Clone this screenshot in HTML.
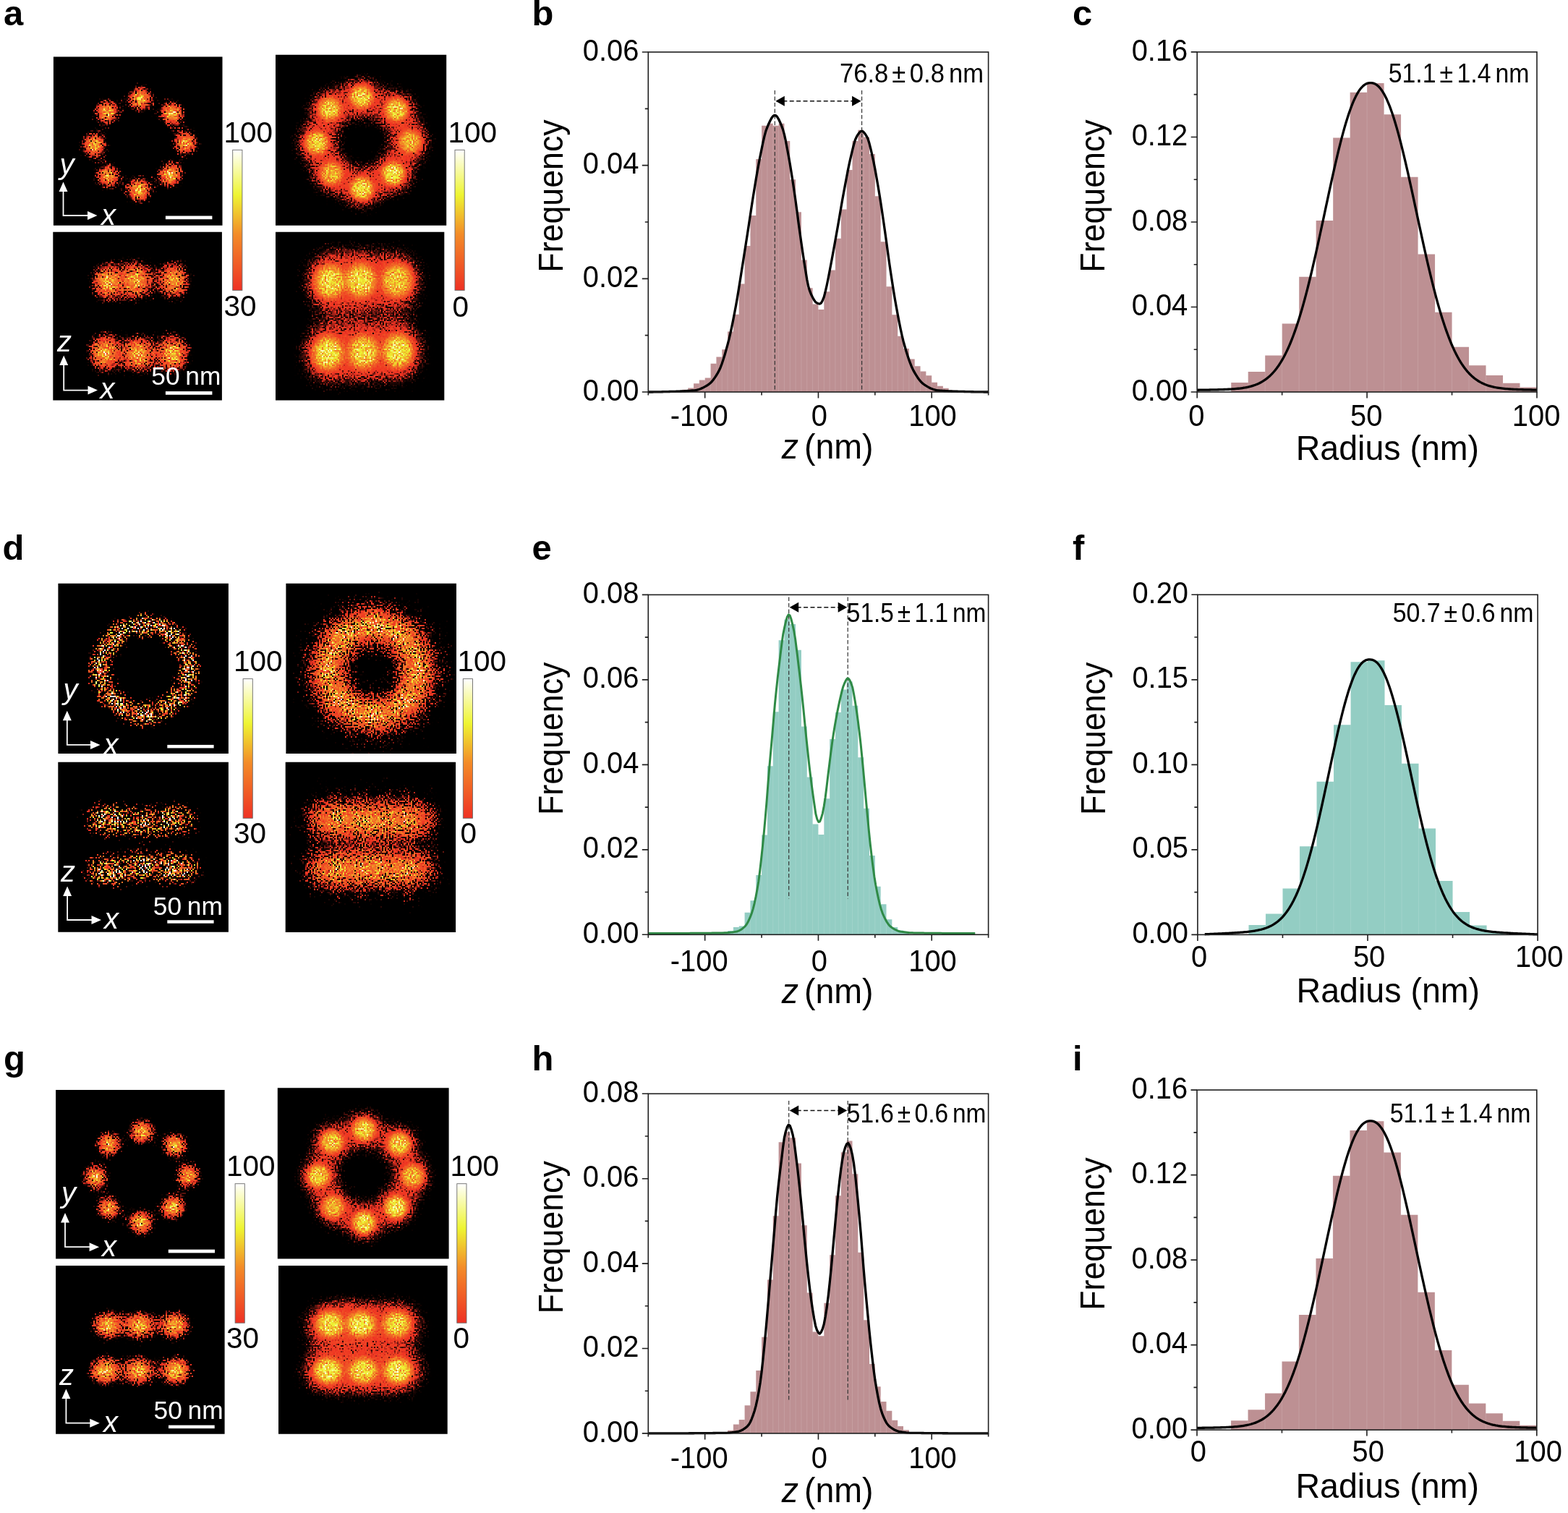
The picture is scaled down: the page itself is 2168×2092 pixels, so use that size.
<!DOCTYPE html>
<html lang="en"><head><meta charset="utf-8"><title>Figure</title>
<style>
html,body{margin:0;padding:0;background:#fff}
body{width:2168px;height:2092px;overflow:hidden}
svg{display:block}
text{font-family:'Liberation Sans', Arial, sans-serif;fill:#000}
.tk{font-size:42.9px}
.ti{font-size:47.5px}
.ty{font-size:47.6px}
.an{font-size:37.2px}
.pl{font-size:47.5px;font-weight:bold}
.wl{font-size:40px;fill:#fff}
.sb{font-size:35.3px;fill:#fff;word-spacing:-2px}
.cl{font-size:40.5px}
</style></head>
<body>
<svg xmlns="http://www.w3.org/2000/svg" width="2168" height="2092" viewBox="0 0 2168 2092">
<defs>
<radialGradient id="gb"><stop offset="0" stop-color="#fff" stop-opacity="1"/><stop offset="0.08" stop-color="#fff" stop-opacity="0.969"/><stop offset="0.17" stop-color="#fff" stop-opacity="0.882"/><stop offset="0.25" stop-color="#fff" stop-opacity="0.755"/><stop offset="0.33" stop-color="#fff" stop-opacity="0.607"/><stop offset="0.42" stop-color="#fff" stop-opacity="0.458"/><stop offset="0.5" stop-color="#fff" stop-opacity="0.325"/><stop offset="0.58" stop-color="#fff" stop-opacity="0.216"/><stop offset="0.67" stop-color="#fff" stop-opacity="0.135"/><stop offset="0.75" stop-color="#fff" stop-opacity="0.08"/><stop offset="0.83" stop-color="#fff" stop-opacity="0.044"/><stop offset="0.92" stop-color="#fff" stop-opacity="0.023"/><stop offset="1" stop-color="#fff" stop-opacity="0"/></radialGradient>
<radialGradient id="gf"><stop offset="0" stop-color="#fff" stop-opacity="1"/><stop offset="0.35" stop-color="#fff" stop-opacity="0.97"/><stop offset="0.5" stop-color="#fff" stop-opacity="0.86"/><stop offset="0.62" stop-color="#fff" stop-opacity="0.66"/><stop offset="0.74" stop-color="#fff" stop-opacity="0.4"/><stop offset="0.85" stop-color="#fff" stop-opacity="0.18"/><stop offset="0.93" stop-color="#fff" stop-opacity="0.06"/><stop offset="1" stop-color="#fff" stop-opacity="0"/></radialGradient>
<linearGradient id="cb" x1="0" y1="1" x2="0" y2="0"><stop offset="0" stop-color="rgb(238,49,36)"/><stop offset="0.4" stop-color="rgb(243,140,40)"/><stop offset="0.68" stop-color="rgb(238,245,50)"/><stop offset="1" stop-color="rgb(255,255,255)"/></linearGradient>
<filter id="f1" filterUnits="userSpaceOnUse" x="73" y="78" width="235" height="234" color-interpolation-filters="sRGB"><feTurbulence type="fractalNoise" baseFrequency="0.45" numOctaves="2" seed="3"/><feColorMatrix type="matrix" values="0.95 0 0 0 0.03 0.95 0 0 0 0.03 0.95 0 0 0 0.03 0 0 0 0 1" result="n"/><feComposite in="SourceGraphic" in2="n" operator="arithmetic" k1="2" k2="0" k3="0.14" k4="-0.07" result="m"/><feFlood flood-color="#000" x="73" y="78" width="1" height="1" result="fl"/><feOffset in="fl" dx="0" dy="0" x="73" y="78" width="2" height="2"/><feTile result="t"/><feComposite in="m" in2="t" operator="in" result="p0"/><feOffset in="p0" dx="1" dy="0" result="p1"/><feOffset in="p0" dx="0" dy="1" result="p2"/><feOffset in="p0" dx="1" dy="1" result="p3"/><feMerge result="px"><feMergeNode in="p0"/><feMergeNode in="p1"/><feMergeNode in="p2"/><feMergeNode in="p3"/></feMerge><feComponentTransfer in="px"><feFuncR type="table" tableValues="0 0 0 0 0 0 0 0 0.03 0.13 0.32 0.58 0.93 0.94 0.94 0.94 0.94 0.94 0.94 0.95 0.95 0.95 0.95 0.95 0.95 0.95 0.95 0.94 0.94 0.94 0.94 0.93 0.94 0.95 0.96 0.96 0.97 0.98 0.99 0.99 1"/><feFuncG type="table" tableValues="0 0 0 0 0 0 0 0 0.01 0.03 0.07 0.12 0.19 0.22 0.26 0.29 0.32 0.35 0.38 0.42 0.45 0.48 0.51 0.54 0.59 0.64 0.7 0.75 0.8 0.85 0.91 0.96 0.96 0.97 0.97 0.98 0.98 0.99 0.99 1 1"/><feFuncB type="table" tableValues="0 0 0 0 0 0 0 0 0 0.02 0.05 0.09 0.14 0.14 0.14 0.15 0.15 0.15 0.15 0.15 0.15 0.15 0.16 0.16 0.16 0.17 0.17 0.18 0.18 0.19 0.19 0.2 0.28 0.37 0.46 0.55 0.64 0.73 0.82 0.91 1"/><feFuncA type="linear" slope="0" intercept="1"/></feComponentTransfer><feGaussianBlur stdDeviation="0.7"/></filter><clipPath id="c1"><rect x="73.9" y="78.6" width="233.6" height="233.1"/></clipPath>
<filter id="f2" filterUnits="userSpaceOnUse" x="73" y="320" width="234" height="234" color-interpolation-filters="sRGB"><feTurbulence type="fractalNoise" baseFrequency="0.45" numOctaves="2" seed="7"/><feColorMatrix type="matrix" values="0.95 0 0 0 0.03 0.95 0 0 0 0.03 0.95 0 0 0 0.03 0 0 0 0 1" result="n"/><feComposite in="SourceGraphic" in2="n" operator="arithmetic" k1="2" k2="0" k3="0.14" k4="-0.07" result="m"/><feFlood flood-color="#000" x="73" y="320" width="1" height="1" result="fl"/><feOffset in="fl" dx="0" dy="0" x="73" y="320" width="2" height="2"/><feTile result="t"/><feComposite in="m" in2="t" operator="in" result="p0"/><feOffset in="p0" dx="1" dy="0" result="p1"/><feOffset in="p0" dx="0" dy="1" result="p2"/><feOffset in="p0" dx="1" dy="1" result="p3"/><feMerge result="px"><feMergeNode in="p0"/><feMergeNode in="p1"/><feMergeNode in="p2"/><feMergeNode in="p3"/></feMerge><feComponentTransfer in="px"><feFuncR type="table" tableValues="0 0 0 0 0 0 0 0 0.03 0.13 0.32 0.58 0.93 0.94 0.94 0.94 0.94 0.94 0.94 0.95 0.95 0.95 0.95 0.95 0.95 0.95 0.95 0.94 0.94 0.94 0.94 0.93 0.94 0.95 0.96 0.96 0.97 0.98 0.99 0.99 1"/><feFuncG type="table" tableValues="0 0 0 0 0 0 0 0 0.01 0.03 0.07 0.12 0.19 0.22 0.26 0.29 0.32 0.35 0.38 0.42 0.45 0.48 0.51 0.54 0.59 0.64 0.7 0.75 0.8 0.85 0.91 0.96 0.96 0.97 0.97 0.98 0.98 0.99 0.99 1 1"/><feFuncB type="table" tableValues="0 0 0 0 0 0 0 0 0 0.02 0.05 0.09 0.14 0.14 0.14 0.15 0.15 0.15 0.15 0.15 0.15 0.15 0.16 0.16 0.16 0.17 0.17 0.18 0.18 0.19 0.19 0.2 0.28 0.37 0.46 0.55 0.64 0.73 0.82 0.91 1"/><feFuncA type="linear" slope="0" intercept="1"/></feComponentTransfer><feGaussianBlur stdDeviation="0.7"/></filter><clipPath id="c2"><rect x="73.3" y="320.7" width="233.6" height="232.7"/></clipPath>
<filter id="f3" filterUnits="userSpaceOnUse" x="381" y="75" width="237" height="237" color-interpolation-filters="sRGB"><feTurbulence type="fractalNoise" baseFrequency="0.45" numOctaves="2" seed="11"/><feColorMatrix type="matrix" values="0.8 0 0 0 0.1 0.8 0 0 0 0.1 0.8 0 0 0 0.1 0 0 0 0 1" result="n"/><feComposite in="SourceGraphic" in2="n" operator="arithmetic" k1="2" k2="0" k3="0.1" k4="-0.05" result="m"/><feFlood flood-color="#000" x="381" y="75" width="1" height="1" result="fl"/><feOffset in="fl" dx="0" dy="0" x="381" y="75" width="2" height="2"/><feTile result="t"/><feComposite in="m" in2="t" operator="in" result="p0"/><feOffset in="p0" dx="1" dy="0" result="p1"/><feOffset in="p0" dx="0" dy="1" result="p2"/><feOffset in="p0" dx="1" dy="1" result="p3"/><feMerge result="px"><feMergeNode in="p0"/><feMergeNode in="p1"/><feMergeNode in="p2"/><feMergeNode in="p3"/></feMerge><feComponentTransfer in="px"><feFuncR type="table" tableValues="0 0 0.01 0.18 0.53 0.93 0.94 0.94 0.94 0.94 0.94 0.94 0.94 0.94 0.95 0.95 0.95 0.95 0.95 0.95 0.95 0.95 0.95 0.94 0.94 0.94 0.94 0.94 0.93 0.93 0.94 0.95 0.95 0.96 0.96 0.97 0.98 0.98 0.99 0.99 1"/><feFuncG type="table" tableValues="0 0 0 0.04 0.11 0.2 0.22 0.25 0.27 0.3 0.32 0.35 0.37 0.4 0.43 0.45 0.48 0.5 0.53 0.55 0.6 0.64 0.68 0.72 0.76 0.8 0.85 0.89 0.93 0.96 0.97 0.97 0.97 0.98 0.98 0.98 0.99 0.99 0.99 1 1"/><feFuncB type="table" tableValues="0 0 0 0.03 0.08 0.14 0.14 0.14 0.14 0.15 0.15 0.15 0.15 0.15 0.15 0.15 0.15 0.15 0.16 0.16 0.16 0.17 0.17 0.17 0.18 0.18 0.19 0.19 0.19 0.21 0.29 0.36 0.43 0.5 0.57 0.64 0.71 0.79 0.86 0.93 1"/><feFuncA type="linear" slope="0" intercept="1"/></feComponentTransfer><feGaussianBlur stdDeviation="0.7"/></filter><clipPath id="c3"><rect x="381" y="75.7" width="236.2" height="236"/></clipPath>
<filter id="f4" filterUnits="userSpaceOnUse" x="381" y="320" width="234" height="234" color-interpolation-filters="sRGB"><feTurbulence type="fractalNoise" baseFrequency="0.45" numOctaves="2" seed="13"/><feColorMatrix type="matrix" values="0.8 0 0 0 0.1 0.8 0 0 0 0.1 0.8 0 0 0 0.1 0 0 0 0 1" result="n"/><feComposite in="SourceGraphic" in2="n" operator="arithmetic" k1="2" k2="0" k3="0.1" k4="-0.05" result="m"/><feFlood flood-color="#000" x="381" y="320" width="1" height="1" result="fl"/><feOffset in="fl" dx="0" dy="0" x="381" y="320" width="2" height="2"/><feTile result="t"/><feComposite in="m" in2="t" operator="in" result="p0"/><feOffset in="p0" dx="1" dy="0" result="p1"/><feOffset in="p0" dx="0" dy="1" result="p2"/><feOffset in="p0" dx="1" dy="1" result="p3"/><feMerge result="px"><feMergeNode in="p0"/><feMergeNode in="p1"/><feMergeNode in="p2"/><feMergeNode in="p3"/></feMerge><feComponentTransfer in="px"><feFuncR type="table" tableValues="0 0 0.01 0.18 0.53 0.93 0.94 0.94 0.94 0.94 0.94 0.94 0.94 0.94 0.95 0.95 0.95 0.95 0.95 0.95 0.95 0.95 0.95 0.94 0.94 0.94 0.94 0.94 0.93 0.93 0.94 0.95 0.95 0.96 0.96 0.97 0.98 0.98 0.99 0.99 1"/><feFuncG type="table" tableValues="0 0 0 0.04 0.11 0.2 0.22 0.25 0.27 0.3 0.32 0.35 0.37 0.4 0.43 0.45 0.48 0.5 0.53 0.55 0.6 0.64 0.68 0.72 0.76 0.8 0.85 0.89 0.93 0.96 0.97 0.97 0.97 0.98 0.98 0.98 0.99 0.99 0.99 1 1"/><feFuncB type="table" tableValues="0 0 0 0.03 0.08 0.14 0.14 0.14 0.14 0.15 0.15 0.15 0.15 0.15 0.15 0.15 0.15 0.15 0.16 0.16 0.16 0.17 0.17 0.17 0.18 0.18 0.19 0.19 0.19 0.21 0.29 0.36 0.43 0.5 0.57 0.64 0.71 0.79 0.86 0.93 1"/><feFuncA type="linear" slope="0" intercept="1"/></feComponentTransfer><feGaussianBlur stdDeviation="0.7"/></filter><clipPath id="c4"><rect x="381" y="320.8" width="233.3" height="232.8"/></clipPath>
<filter id="f5" filterUnits="userSpaceOnUse" x="80" y="806" width="236" height="236" color-interpolation-filters="sRGB"><feTurbulence type="fractalNoise" baseFrequency="0.47" numOctaves="2" seed="17"/><feColorMatrix type="matrix" values="2.2 0 0 0 -0.6 2.2 0 0 0 -0.6 2.2 0 0 0 -0.6 0 0 0 0 1"/><feComponentTransfer result="n"><feFuncR type="gamma" exponent="1.8"/><feFuncG type="gamma" exponent="1.8"/><feFuncB type="gamma" exponent="1.8"/></feComponentTransfer><feComposite in="SourceGraphic" in2="n" operator="arithmetic" k1="2.3" k2="0" k3="0.2" k4="-0.1" result="m"/><feFlood flood-color="#000" x="80" y="806" width="1" height="1" result="fl"/><feOffset in="fl" dx="0" dy="0" x="80" y="806" width="2" height="2"/><feTile result="t"/><feComposite in="m" in2="t" operator="in" result="p0"/><feOffset in="p0" dx="1" dy="0" result="p1"/><feOffset in="p0" dx="0" dy="1" result="p2"/><feOffset in="p0" dx="1" dy="1" result="p3"/><feMerge result="px"><feMergeNode in="p0"/><feMergeNode in="p1"/><feMergeNode in="p2"/><feMergeNode in="p3"/></feMerge><feComponentTransfer in="px"><feFuncR type="table" tableValues="0 0 0 0 0 0 0 0 0.03 0.13 0.32 0.58 0.93 0.94 0.94 0.94 0.94 0.94 0.94 0.95 0.95 0.95 0.95 0.95 0.95 0.95 0.95 0.94 0.94 0.94 0.94 0.93 0.94 0.95 0.96 0.96 0.97 0.98 0.99 0.99 1"/><feFuncG type="table" tableValues="0 0 0 0 0 0 0 0 0.01 0.03 0.07 0.12 0.19 0.22 0.26 0.29 0.32 0.35 0.38 0.42 0.45 0.48 0.51 0.54 0.59 0.64 0.7 0.75 0.8 0.85 0.91 0.96 0.96 0.97 0.97 0.98 0.98 0.99 0.99 1 1"/><feFuncB type="table" tableValues="0 0 0 0 0 0 0 0 0 0.02 0.05 0.09 0.14 0.14 0.14 0.15 0.15 0.15 0.15 0.15 0.15 0.15 0.16 0.16 0.16 0.17 0.17 0.18 0.18 0.19 0.19 0.2 0.28 0.37 0.46 0.55 0.64 0.73 0.82 0.91 1"/><feFuncA type="linear" slope="0" intercept="1"/></feComponentTransfer><feGaussianBlur stdDeviation="0.7"/></filter><clipPath id="c5"><rect x="80.4" y="806.8" width="235.5" height="235.2"/></clipPath>
<radialGradient id="gr1"><stop offset="0" stop-color="#fff" stop-opacity="0"/><stop offset="0.333" stop-color="#fff" stop-opacity="0"/><stop offset="0.375" stop-color="#fff" stop-opacity="0.032"/><stop offset="0.417" stop-color="#fff" stop-opacity="0.08"/><stop offset="0.458" stop-color="#fff" stop-opacity="0.172"/><stop offset="0.5" stop-color="#fff" stop-opacity="0.325"/><stop offset="0.542" stop-color="#fff" stop-opacity="0.531"/><stop offset="0.583" stop-color="#fff" stop-opacity="0.755"/><stop offset="0.625" stop-color="#fff" stop-opacity="0.932"/><stop offset="0.667" stop-color="#fff" stop-opacity="1"/><stop offset="0.708" stop-color="#fff" stop-opacity="0.932"/><stop offset="0.75" stop-color="#fff" stop-opacity="0.755"/><stop offset="0.792" stop-color="#fff" stop-opacity="0.531"/><stop offset="0.833" stop-color="#fff" stop-opacity="0.325"/><stop offset="0.875" stop-color="#fff" stop-opacity="0.172"/><stop offset="0.917" stop-color="#fff" stop-opacity="0.08"/><stop offset="0.958" stop-color="#fff" stop-opacity="0.032"/><stop offset="1" stop-color="#fff" stop-opacity="0"/></radialGradient>
<filter id="f6" filterUnits="userSpaceOnUse" x="80" y="1053" width="236" height="236" color-interpolation-filters="sRGB"><feTurbulence type="fractalNoise" baseFrequency="0.47" numOctaves="2" seed="19"/><feColorMatrix type="matrix" values="2.2 0 0 0 -0.6 2.2 0 0 0 -0.6 2.2 0 0 0 -0.6 0 0 0 0 1"/><feComponentTransfer result="n"><feFuncR type="gamma" exponent="1.8"/><feFuncG type="gamma" exponent="1.8"/><feFuncB type="gamma" exponent="1.8"/></feComponentTransfer><feComposite in="SourceGraphic" in2="n" operator="arithmetic" k1="2.3" k2="0" k3="0.2" k4="-0.1" result="m"/><feFlood flood-color="#000" x="80" y="1053" width="1" height="1" result="fl"/><feOffset in="fl" dx="0" dy="0" x="80" y="1053" width="2" height="2"/><feTile result="t"/><feComposite in="m" in2="t" operator="in" result="p0"/><feOffset in="p0" dx="1" dy="0" result="p1"/><feOffset in="p0" dx="0" dy="1" result="p2"/><feOffset in="p0" dx="1" dy="1" result="p3"/><feMerge result="px"><feMergeNode in="p0"/><feMergeNode in="p1"/><feMergeNode in="p2"/><feMergeNode in="p3"/></feMerge><feComponentTransfer in="px"><feFuncR type="table" tableValues="0 0 0 0 0 0 0 0 0.03 0.13 0.32 0.58 0.93 0.94 0.94 0.94 0.94 0.94 0.94 0.95 0.95 0.95 0.95 0.95 0.95 0.95 0.95 0.94 0.94 0.94 0.94 0.93 0.94 0.95 0.96 0.96 0.97 0.98 0.99 0.99 1"/><feFuncG type="table" tableValues="0 0 0 0 0 0 0 0 0.01 0.03 0.07 0.12 0.19 0.22 0.26 0.29 0.32 0.35 0.38 0.42 0.45 0.48 0.51 0.54 0.59 0.64 0.7 0.75 0.8 0.85 0.91 0.96 0.96 0.97 0.97 0.98 0.98 0.99 0.99 1 1"/><feFuncB type="table" tableValues="0 0 0 0 0 0 0 0 0 0.02 0.05 0.09 0.14 0.14 0.14 0.15 0.15 0.15 0.15 0.15 0.15 0.15 0.16 0.16 0.16 0.17 0.17 0.18 0.18 0.19 0.19 0.2 0.28 0.37 0.46 0.55 0.64 0.73 0.82 0.91 1"/><feFuncA type="linear" slope="0" intercept="1"/></feComponentTransfer><feGaussianBlur stdDeviation="0.7"/></filter><clipPath id="c6"><rect x="80.3" y="1053.8" width="235.6" height="235"/></clipPath>
<filter id="f7" filterUnits="userSpaceOnUse" x="395" y="806" width="236" height="236" color-interpolation-filters="sRGB"><feTurbulence type="fractalNoise" baseFrequency="0.47" numOctaves="2" seed="23"/><feColorMatrix type="matrix" values="1.6 0 0 0 -0.3 1.6 0 0 0 -0.3 1.6 0 0 0 -0.3 0 0 0 0 1"/><feComponentTransfer result="n"><feFuncR type="gamma" exponent="1.5"/><feFuncG type="gamma" exponent="1.5"/><feFuncB type="gamma" exponent="1.5"/></feComponentTransfer><feComposite in="SourceGraphic" in2="n" operator="arithmetic" k1="2.45" k2="0" k3="0.1" k4="-0.05" result="m"/><feFlood flood-color="#000" x="395" y="806" width="1" height="1" result="fl"/><feOffset in="fl" dx="0" dy="0" x="395" y="806" width="2" height="2"/><feTile result="t"/><feComposite in="m" in2="t" operator="in" result="p0"/><feOffset in="p0" dx="1" dy="0" result="p1"/><feOffset in="p0" dx="0" dy="1" result="p2"/><feOffset in="p0" dx="1" dy="1" result="p3"/><feMerge result="px"><feMergeNode in="p0"/><feMergeNode in="p1"/><feMergeNode in="p2"/><feMergeNode in="p3"/></feMerge><feComponentTransfer in="px"><feFuncR type="table" tableValues="0 0 0.01 0.18 0.53 0.93 0.94 0.94 0.94 0.94 0.94 0.94 0.94 0.94 0.95 0.95 0.95 0.95 0.95 0.95 0.95 0.95 0.95 0.94 0.94 0.94 0.94 0.94 0.93 0.93 0.94 0.95 0.95 0.96 0.96 0.97 0.98 0.98 0.99 0.99 1"/><feFuncG type="table" tableValues="0 0 0 0.04 0.11 0.2 0.22 0.25 0.27 0.3 0.32 0.35 0.37 0.4 0.43 0.45 0.48 0.5 0.53 0.55 0.6 0.64 0.68 0.72 0.76 0.8 0.85 0.89 0.93 0.96 0.97 0.97 0.97 0.98 0.98 0.98 0.99 0.99 0.99 1 1"/><feFuncB type="table" tableValues="0 0 0 0.03 0.08 0.14 0.14 0.14 0.14 0.15 0.15 0.15 0.15 0.15 0.15 0.15 0.15 0.15 0.16 0.16 0.16 0.17 0.17 0.17 0.18 0.18 0.19 0.19 0.19 0.21 0.29 0.36 0.43 0.5 0.57 0.64 0.71 0.79 0.86 0.93 1"/><feFuncA type="linear" slope="0" intercept="1"/></feComponentTransfer><feGaussianBlur stdDeviation="0.7"/></filter><clipPath id="c7"><rect x="395.4" y="806.8" width="235.6" height="235.2"/></clipPath>
<radialGradient id="gr2"><stop offset="0" stop-color="#fff" stop-opacity="0.019"/><stop offset="0.062" stop-color="#fff" stop-opacity="0.049"/><stop offset="0.125" stop-color="#fff" stop-opacity="0.112"/><stop offset="0.188" stop-color="#fff" stop-opacity="0.225"/><stop offset="0.25" stop-color="#fff" stop-opacity="0.395"/><stop offset="0.312" stop-color="#fff" stop-opacity="0.607"/><stop offset="0.375" stop-color="#fff" stop-opacity="0.817"/><stop offset="0.438" stop-color="#fff" stop-opacity="0.963"/><stop offset="0.5" stop-color="#fff" stop-opacity="0.996"/><stop offset="0.562" stop-color="#fff" stop-opacity="0.902"/><stop offset="0.625" stop-color="#fff" stop-opacity="0.716"/><stop offset="0.688" stop-color="#fff" stop-opacity="0.497"/><stop offset="0.75" stop-color="#fff" stop-opacity="0.303"/><stop offset="0.812" stop-color="#fff" stop-opacity="0.162"/><stop offset="0.875" stop-color="#fff" stop-opacity="0.076"/><stop offset="0.938" stop-color="#fff" stop-opacity="0.031"/><stop offset="1" stop-color="#fff" stop-opacity="0"/></radialGradient>
<radialGradient id="gr3"><stop offset="0" stop-color="#fff" stop-opacity="0"/><stop offset="0.25" stop-color="#fff" stop-opacity="0"/><stop offset="0.297" stop-color="#fff" stop-opacity="0.032"/><stop offset="0.344" stop-color="#fff" stop-opacity="0.08"/><stop offset="0.391" stop-color="#fff" stop-opacity="0.172"/><stop offset="0.438" stop-color="#fff" stop-opacity="0.325"/><stop offset="0.484" stop-color="#fff" stop-opacity="0.531"/><stop offset="0.531" stop-color="#fff" stop-opacity="0.755"/><stop offset="0.578" stop-color="#fff" stop-opacity="0.932"/><stop offset="0.625" stop-color="#fff" stop-opacity="1"/><stop offset="0.672" stop-color="#fff" stop-opacity="0.932"/><stop offset="0.719" stop-color="#fff" stop-opacity="0.755"/><stop offset="0.766" stop-color="#fff" stop-opacity="0.531"/><stop offset="0.812" stop-color="#fff" stop-opacity="0.325"/><stop offset="0.859" stop-color="#fff" stop-opacity="0.172"/><stop offset="0.906" stop-color="#fff" stop-opacity="0.08"/><stop offset="0.953" stop-color="#fff" stop-opacity="0.032"/><stop offset="1" stop-color="#fff" stop-opacity="0"/></radialGradient>
<filter id="f8" filterUnits="userSpaceOnUse" x="394" y="1053" width="237" height="237" color-interpolation-filters="sRGB"><feTurbulence type="fractalNoise" baseFrequency="0.47" numOctaves="2" seed="29"/><feColorMatrix type="matrix" values="1.6 0 0 0 -0.3 1.6 0 0 0 -0.3 1.6 0 0 0 -0.3 0 0 0 0 1"/><feComponentTransfer result="n"><feFuncR type="gamma" exponent="1.5"/><feFuncG type="gamma" exponent="1.5"/><feFuncB type="gamma" exponent="1.5"/></feComponentTransfer><feComposite in="SourceGraphic" in2="n" operator="arithmetic" k1="2.45" k2="0" k3="0.1" k4="-0.05" result="m"/><feFlood flood-color="#000" x="394" y="1053" width="1" height="1" result="fl"/><feOffset in="fl" dx="0" dy="0" x="394" y="1053" width="2" height="2"/><feTile result="t"/><feComposite in="m" in2="t" operator="in" result="p0"/><feOffset in="p0" dx="1" dy="0" result="p1"/><feOffset in="p0" dx="0" dy="1" result="p2"/><feOffset in="p0" dx="1" dy="1" result="p3"/><feMerge result="px"><feMergeNode in="p0"/><feMergeNode in="p1"/><feMergeNode in="p2"/><feMergeNode in="p3"/></feMerge><feComponentTransfer in="px"><feFuncR type="table" tableValues="0 0 0.01 0.18 0.53 0.93 0.94 0.94 0.94 0.94 0.94 0.94 0.94 0.94 0.95 0.95 0.95 0.95 0.95 0.95 0.95 0.95 0.95 0.94 0.94 0.94 0.94 0.94 0.93 0.93 0.94 0.95 0.95 0.96 0.96 0.97 0.98 0.98 0.99 0.99 1"/><feFuncG type="table" tableValues="0 0 0 0.04 0.11 0.2 0.22 0.25 0.27 0.3 0.32 0.35 0.37 0.4 0.43 0.45 0.48 0.5 0.53 0.55 0.6 0.64 0.68 0.72 0.76 0.8 0.85 0.89 0.93 0.96 0.97 0.97 0.97 0.98 0.98 0.98 0.99 0.99 0.99 1 1"/><feFuncB type="table" tableValues="0 0 0 0.03 0.08 0.14 0.14 0.14 0.14 0.15 0.15 0.15 0.15 0.15 0.15 0.15 0.15 0.15 0.16 0.16 0.16 0.17 0.17 0.17 0.18 0.18 0.19 0.19 0.19 0.21 0.29 0.36 0.43 0.5 0.57 0.64 0.71 0.79 0.86 0.93 1"/><feFuncA type="linear" slope="0" intercept="1"/></feComponentTransfer><feGaussianBlur stdDeviation="0.7"/></filter><clipPath id="c8"><rect x="394.7" y="1053.8" width="235.4" height="235.3"/></clipPath>
<filter id="f9" filterUnits="userSpaceOnUse" x="77" y="1507" width="234" height="234" color-interpolation-filters="sRGB"><feTurbulence type="fractalNoise" baseFrequency="0.45" numOctaves="2" seed="31"/><feColorMatrix type="matrix" values="0.95 0 0 0 0.03 0.95 0 0 0 0.03 0.95 0 0 0 0.03 0 0 0 0 1" result="n"/><feComposite in="SourceGraphic" in2="n" operator="arithmetic" k1="2" k2="0" k3="0.14" k4="-0.07" result="m"/><feFlood flood-color="#000" x="77" y="1507" width="1" height="1" result="fl"/><feOffset in="fl" dx="0" dy="0" x="77" y="1507" width="2" height="2"/><feTile result="t"/><feComposite in="m" in2="t" operator="in" result="p0"/><feOffset in="p0" dx="1" dy="0" result="p1"/><feOffset in="p0" dx="0" dy="1" result="p2"/><feOffset in="p0" dx="1" dy="1" result="p3"/><feMerge result="px"><feMergeNode in="p0"/><feMergeNode in="p1"/><feMergeNode in="p2"/><feMergeNode in="p3"/></feMerge><feComponentTransfer in="px"><feFuncR type="table" tableValues="0 0 0 0 0 0 0 0 0.03 0.13 0.32 0.58 0.93 0.94 0.94 0.94 0.94 0.94 0.94 0.95 0.95 0.95 0.95 0.95 0.95 0.95 0.95 0.94 0.94 0.94 0.94 0.93 0.94 0.95 0.96 0.96 0.97 0.98 0.99 0.99 1"/><feFuncG type="table" tableValues="0 0 0 0 0 0 0 0 0.01 0.03 0.07 0.12 0.19 0.22 0.26 0.29 0.32 0.35 0.38 0.42 0.45 0.48 0.51 0.54 0.59 0.64 0.7 0.75 0.8 0.85 0.91 0.96 0.96 0.97 0.97 0.98 0.98 0.99 0.99 1 1"/><feFuncB type="table" tableValues="0 0 0 0 0 0 0 0 0 0.02 0.05 0.09 0.14 0.14 0.14 0.15 0.15 0.15 0.15 0.15 0.15 0.15 0.16 0.16 0.16 0.17 0.17 0.18 0.18 0.19 0.19 0.2 0.28 0.37 0.46 0.55 0.64 0.73 0.82 0.91 1"/><feFuncA type="linear" slope="0" intercept="1"/></feComponentTransfer><feGaussianBlur stdDeviation="0.7"/></filter><clipPath id="c9"><rect x="77.1" y="1507.1" width="233.5" height="233.4"/></clipPath>
<filter id="f10" filterUnits="userSpaceOnUse" x="77" y="1750" width="234" height="233" color-interpolation-filters="sRGB"><feTurbulence type="fractalNoise" baseFrequency="0.45" numOctaves="2" seed="37"/><feColorMatrix type="matrix" values="0.95 0 0 0 0.03 0.95 0 0 0 0.03 0.95 0 0 0 0.03 0 0 0 0 1" result="n"/><feComposite in="SourceGraphic" in2="n" operator="arithmetic" k1="2" k2="0" k3="0.14" k4="-0.07" result="m"/><feFlood flood-color="#000" x="77" y="1750" width="1" height="1" result="fl"/><feOffset in="fl" dx="0" dy="0" x="77" y="1750" width="2" height="2"/><feTile result="t"/><feComposite in="m" in2="t" operator="in" result="p0"/><feOffset in="p0" dx="1" dy="0" result="p1"/><feOffset in="p0" dx="0" dy="1" result="p2"/><feOffset in="p0" dx="1" dy="1" result="p3"/><feMerge result="px"><feMergeNode in="p0"/><feMergeNode in="p1"/><feMergeNode in="p2"/><feMergeNode in="p3"/></feMerge><feComponentTransfer in="px"><feFuncR type="table" tableValues="0 0 0 0 0 0 0 0 0.03 0.13 0.32 0.58 0.93 0.94 0.94 0.94 0.94 0.94 0.94 0.95 0.95 0.95 0.95 0.95 0.95 0.95 0.95 0.94 0.94 0.94 0.94 0.93 0.94 0.95 0.96 0.96 0.97 0.98 0.99 0.99 1"/><feFuncG type="table" tableValues="0 0 0 0 0 0 0 0 0.01 0.03 0.07 0.12 0.19 0.22 0.26 0.29 0.32 0.35 0.38 0.42 0.45 0.48 0.51 0.54 0.59 0.64 0.7 0.75 0.8 0.85 0.91 0.96 0.96 0.97 0.97 0.98 0.98 0.99 0.99 1 1"/><feFuncB type="table" tableValues="0 0 0 0 0 0 0 0 0 0.02 0.05 0.09 0.14 0.14 0.14 0.15 0.15 0.15 0.15 0.15 0.15 0.15 0.16 0.16 0.16 0.17 0.17 0.18 0.18 0.19 0.19 0.2 0.28 0.37 0.46 0.55 0.64 0.73 0.82 0.91 1"/><feFuncA type="linear" slope="0" intercept="1"/></feComponentTransfer><feGaussianBlur stdDeviation="0.7"/></filter><clipPath id="c10"><rect x="77.1" y="1750" width="233.5" height="232.7"/></clipPath>
<filter id="f11" filterUnits="userSpaceOnUse" x="383" y="1504" width="238" height="237" color-interpolation-filters="sRGB"><feTurbulence type="fractalNoise" baseFrequency="0.45" numOctaves="2" seed="41"/><feColorMatrix type="matrix" values="0.8 0 0 0 0.1 0.8 0 0 0 0.1 0.8 0 0 0 0.1 0 0 0 0 1" result="n"/><feComposite in="SourceGraphic" in2="n" operator="arithmetic" k1="2" k2="0" k3="0.1" k4="-0.05" result="m"/><feFlood flood-color="#000" x="383" y="1504" width="1" height="1" result="fl"/><feOffset in="fl" dx="0" dy="0" x="383" y="1504" width="2" height="2"/><feTile result="t"/><feComposite in="m" in2="t" operator="in" result="p0"/><feOffset in="p0" dx="1" dy="0" result="p1"/><feOffset in="p0" dx="0" dy="1" result="p2"/><feOffset in="p0" dx="1" dy="1" result="p3"/><feMerge result="px"><feMergeNode in="p0"/><feMergeNode in="p1"/><feMergeNode in="p2"/><feMergeNode in="p3"/></feMerge><feComponentTransfer in="px"><feFuncR type="table" tableValues="0 0 0.01 0.18 0.53 0.93 0.94 0.94 0.94 0.94 0.94 0.94 0.94 0.94 0.95 0.95 0.95 0.95 0.95 0.95 0.95 0.95 0.95 0.94 0.94 0.94 0.94 0.94 0.93 0.93 0.94 0.95 0.95 0.96 0.96 0.97 0.98 0.98 0.99 0.99 1"/><feFuncG type="table" tableValues="0 0 0 0.04 0.11 0.2 0.22 0.25 0.27 0.3 0.32 0.35 0.37 0.4 0.43 0.45 0.48 0.5 0.53 0.55 0.6 0.64 0.68 0.72 0.76 0.8 0.85 0.89 0.93 0.96 0.97 0.97 0.97 0.98 0.98 0.98 0.99 0.99 0.99 1 1"/><feFuncB type="table" tableValues="0 0 0 0.03 0.08 0.14 0.14 0.14 0.14 0.15 0.15 0.15 0.15 0.15 0.15 0.15 0.15 0.15 0.16 0.16 0.16 0.17 0.17 0.17 0.18 0.18 0.19 0.19 0.19 0.21 0.29 0.36 0.43 0.5 0.57 0.64 0.71 0.79 0.86 0.93 1"/><feFuncA type="linear" slope="0" intercept="1"/></feComponentTransfer><feGaussianBlur stdDeviation="0.7"/></filter><clipPath id="c11"><rect x="383.8" y="1504.3" width="236.8" height="236.2"/></clipPath>
<filter id="f12" filterUnits="userSpaceOnUse" x="385" y="1750" width="234" height="233" color-interpolation-filters="sRGB"><feTurbulence type="fractalNoise" baseFrequency="0.45" numOctaves="2" seed="43"/><feColorMatrix type="matrix" values="0.8 0 0 0 0.1 0.8 0 0 0 0.1 0.8 0 0 0 0.1 0 0 0 0 1" result="n"/><feComposite in="SourceGraphic" in2="n" operator="arithmetic" k1="2" k2="0" k3="0.1" k4="-0.05" result="m"/><feFlood flood-color="#000" x="385" y="1750" width="1" height="1" result="fl"/><feOffset in="fl" dx="0" dy="0" x="385" y="1750" width="2" height="2"/><feTile result="t"/><feComposite in="m" in2="t" operator="in" result="p0"/><feOffset in="p0" dx="1" dy="0" result="p1"/><feOffset in="p0" dx="0" dy="1" result="p2"/><feOffset in="p0" dx="1" dy="1" result="p3"/><feMerge result="px"><feMergeNode in="p0"/><feMergeNode in="p1"/><feMergeNode in="p2"/><feMergeNode in="p3"/></feMerge><feComponentTransfer in="px"><feFuncR type="table" tableValues="0 0 0.01 0.18 0.53 0.93 0.94 0.94 0.94 0.94 0.94 0.94 0.94 0.94 0.95 0.95 0.95 0.95 0.95 0.95 0.95 0.95 0.95 0.94 0.94 0.94 0.94 0.94 0.93 0.93 0.94 0.95 0.95 0.96 0.96 0.97 0.98 0.98 0.99 0.99 1"/><feFuncG type="table" tableValues="0 0 0 0.04 0.11 0.2 0.22 0.25 0.27 0.3 0.32 0.35 0.37 0.4 0.43 0.45 0.48 0.5 0.53 0.55 0.6 0.64 0.68 0.72 0.76 0.8 0.85 0.89 0.93 0.96 0.97 0.97 0.97 0.98 0.98 0.98 0.99 0.99 0.99 1 1"/><feFuncB type="table" tableValues="0 0 0 0.03 0.08 0.14 0.14 0.14 0.14 0.15 0.15 0.15 0.15 0.15 0.15 0.15 0.15 0.15 0.16 0.16 0.16 0.17 0.17 0.17 0.18 0.18 0.19 0.19 0.19 0.21 0.29 0.36 0.43 0.5 0.57 0.64 0.71 0.79 0.86 0.93 1"/><feFuncA type="linear" slope="0" intercept="1"/></feComponentTransfer><feGaussianBlur stdDeviation="0.7"/></filter><clipPath id="c12"><rect x="385" y="1750" width="233.7" height="232.7"/></clipPath>
</defs>
<rect width="2168" height="2092" fill="#fff"/>
<g clip-path="url(#c1)"><g filter="url(#f1)"><rect x="73" y="78" width="235" height="234" fill="#000"/><ellipse cx="193.3" cy="136.2" rx="40.5" ry="40.5" fill="url(#gb)" opacity="0.44"/><ellipse cx="237.1" cy="156.2" rx="40.5" ry="40.5" fill="url(#gb)" opacity="0.44"/><ellipse cx="256.2" cy="197.1" rx="40.5" ry="40.5" fill="url(#gb)" opacity="0.42"/><ellipse cx="235.2" cy="240.9" rx="40.5" ry="40.5" fill="url(#gb)" opacity="0.45"/><ellipse cx="191.4" cy="261.9" rx="40.5" ry="40.5" fill="url(#gb)" opacity="0.45"/><ellipse cx="148.6" cy="242.8" rx="40.5" ry="40.5" fill="url(#gb)" opacity="0.41"/><ellipse cx="129.5" cy="200" rx="40.5" ry="40.5" fill="url(#gb)" opacity="0.44"/><ellipse cx="147.6" cy="154.3" rx="40.5" ry="40.5" fill="url(#gb)" opacity="0.43"/><ellipse cx="193.3" cy="136.2" rx="18" ry="18" fill="url(#gb)" opacity="0.4"/><ellipse cx="237.1" cy="156.2" rx="18" ry="18" fill="url(#gb)" opacity="0.4"/><ellipse cx="256.2" cy="197.1" rx="18" ry="18" fill="url(#gb)" opacity="0.33"/><ellipse cx="235.2" cy="240.9" rx="18" ry="18" fill="url(#gb)" opacity="0.44"/><ellipse cx="191.4" cy="261.9" rx="18" ry="18" fill="url(#gb)" opacity="0.43"/><ellipse cx="148.6" cy="242.8" rx="18" ry="18" fill="url(#gb)" opacity="0.32"/><ellipse cx="129.5" cy="200" rx="18" ry="18" fill="url(#gb)" opacity="0.39"/><ellipse cx="147.6" cy="154.3" rx="18" ry="18" fill="url(#gb)" opacity="0.38"/></g></g>
<g clip-path="url(#c2)"><g filter="url(#f2)"><rect x="73" y="320" width="234" height="234" fill="#000"/><ellipse cx="148" cy="389.7" rx="52.5" ry="61.5" fill="url(#gb)" opacity="0.44"/><ellipse cx="187.9" cy="387" rx="52.5" ry="61.5" fill="url(#gb)" opacity="0.44"/><ellipse cx="240.1" cy="387" rx="52.5" ry="61.5" fill="url(#gb)" opacity="0.43"/><ellipse cx="143.9" cy="487.4" rx="52.5" ry="61.5" fill="url(#gb)" opacity="0.45"/><ellipse cx="190.6" cy="488.7" rx="52.5" ry="61.5" fill="url(#gb)" opacity="0.44"/><ellipse cx="238.7" cy="488.7" rx="52.5" ry="61.5" fill="url(#gb)" opacity="0.46"/><ellipse cx="148" cy="389.7" rx="24" ry="27" fill="url(#gb)" opacity="0.33"/><ellipse cx="187.9" cy="387" rx="24" ry="27" fill="url(#gb)" opacity="0.33"/><ellipse cx="240.1" cy="387" rx="24" ry="27" fill="url(#gb)" opacity="0.31"/><ellipse cx="143.9" cy="487.4" rx="24" ry="27" fill="url(#gb)" opacity="0.37"/><ellipse cx="190.6" cy="488.7" rx="24" ry="27" fill="url(#gb)" opacity="0.33"/><ellipse cx="238.7" cy="488.7" rx="24" ry="27" fill="url(#gb)" opacity="0.38"/></g></g>
<g clip-path="url(#c3)"><g filter="url(#f3)"><rect x="381" y="75" width="237" height="237" fill="#000"/><ellipse cx="499.2" cy="133.7" rx="57" ry="57" fill="url(#gb)" opacity="0.19"/><ellipse cx="547.4" cy="151.6" rx="57" ry="57" fill="url(#gb)" opacity="0.19"/><ellipse cx="566.6" cy="195.6" rx="57" ry="57" fill="url(#gb)" opacity="0.18"/><ellipse cx="543.2" cy="239.6" rx="57" ry="57" fill="url(#gb)" opacity="0.2"/><ellipse cx="499.9" cy="260.2" rx="57" ry="57" fill="url(#gb)" opacity="0.19"/><ellipse cx="458" cy="239.6" rx="57" ry="57" fill="url(#gb)" opacity="0.18"/><ellipse cx="437.4" cy="197" rx="57" ry="57" fill="url(#gb)" opacity="0.19"/><ellipse cx="455.2" cy="150.2" rx="57" ry="57" fill="url(#gb)" opacity="0.19"/><ellipse cx="499.2" cy="133.7" rx="20" ry="20" fill="url(#gf)" opacity="0.56"/><ellipse cx="547.4" cy="151.6" rx="20" ry="20" fill="url(#gf)" opacity="0.56"/><ellipse cx="566.6" cy="195.6" rx="20" ry="20" fill="url(#gf)" opacity="0.46"/><ellipse cx="543.2" cy="239.6" rx="20" ry="20" fill="url(#gf)" opacity="0.62"/><ellipse cx="499.9" cy="260.2" rx="20" ry="20" fill="url(#gf)" opacity="0.6"/><ellipse cx="458" cy="239.6" rx="20" ry="20" fill="url(#gf)" opacity="0.45"/><ellipse cx="437.4" cy="197" rx="20" ry="20" fill="url(#gf)" opacity="0.54"/><ellipse cx="455.2" cy="150.2" rx="20" ry="20" fill="url(#gf)" opacity="0.53"/></g></g>
<g clip-path="url(#c4)"><g filter="url(#f4)"><rect x="381" y="320" width="234" height="234" fill="#000"/><ellipse cx="455.2" cy="388.9" rx="69" ry="81" fill="url(#gb)" opacity="0.21"/><ellipse cx="497.9" cy="387.5" rx="69" ry="81" fill="url(#gb)" opacity="0.21"/><ellipse cx="548.7" cy="387.5" rx="69" ry="81" fill="url(#gb)" opacity="0.2"/><ellipse cx="452.5" cy="487.9" rx="69" ry="81" fill="url(#gb)" opacity="0.22"/><ellipse cx="502" cy="486.5" rx="69" ry="81" fill="url(#gb)" opacity="0.21"/><ellipse cx="550.1" cy="485.1" rx="69" ry="81" fill="url(#gb)" opacity="0.22"/><ellipse cx="455.2" cy="388.9" rx="27" ry="30" fill="url(#gf)" opacity="0.56"/><ellipse cx="497.9" cy="387.5" rx="27" ry="30" fill="url(#gf)" opacity="0.56"/><ellipse cx="548.7" cy="387.5" rx="27" ry="30" fill="url(#gf)" opacity="0.52"/><ellipse cx="452.5" cy="487.9" rx="27" ry="30" fill="url(#gf)" opacity="0.6"/><ellipse cx="502" cy="486.5" rx="27" ry="30" fill="url(#gf)" opacity="0.54"/><ellipse cx="550.1" cy="485.1" rx="27" ry="30" fill="url(#gf)" opacity="0.6"/></g></g>
<path d="M87.5 259.5V298H126.5" stroke="#fff" stroke-width="1.8" fill="none"/><path d="M87.5 251.5l-6 13.5h12zM134.5 298l-13.5 -6v12z" fill="#fff"/><text x="82.5" y="240.5" class="wl" font-style="italic">y</text><text x="140" y="311" class="wl" font-style="italic">x</text>
<rect x="228.9" y="298.5" width="64.5" height="4.7" fill="#fff"/>
<path d="M88.2 499.5V539.6H127" stroke="#fff" stroke-width="1.8" fill="none"/><path d="M88.2 491.5l-6 13.5h12zM135 539.6l-13.5 -6v12z" fill="#fff"/><text x="79" y="486" class="wl" font-style="italic">z</text><text x="138.5" y="550.6" class="wl" font-style="italic">x</text>
<rect x="228.9" y="541.1" width="64.5" height="4.7" fill="#fff"/><text x="209.3" y="531.7" class="sb">50 nm</text>
<rect x="321.7" y="207.3" width="13.2" height="194.1" fill="url(#cb)" stroke="#6b6b6b" stroke-width="0.9"/><text x="309.5" y="197.4" class="cl">100</text><text x="309.5" y="437.2" class="cl">30</text>
<rect x="629" y="207.3" width="13.2" height="194.1" fill="url(#cb)" stroke="#6b6b6b" stroke-width="0.9"/><text x="619.5" y="196.6" class="cl">100</text><text x="625.5" y="437.6" class="cl">0</text>
<g clip-path="url(#c5)"><g filter="url(#f5)"><rect x="80" y="806" width="236" height="236" fill="#000"/><circle cx="199.9" cy="925.6" r="90" fill="url(#gr1)" opacity="0.44"/><ellipse cx="202.8" cy="858.5" rx="39" ry="24" fill="url(#gb)" opacity="0.28" transform="rotate(2.47 202.8 858.5)"/><ellipse cx="241.3" cy="878.5" rx="39" ry="24" fill="url(#gb)" opacity="0.28" transform="rotate(41.31 241.3 878.5)"/><ellipse cx="262.7" cy="927.1" rx="39" ry="24" fill="url(#gb)" opacity="0.28" transform="rotate(91.37 262.7 927.1)"/><ellipse cx="245.6" cy="967" rx="39" ry="24" fill="url(#gb)" opacity="0.28" transform="rotate(132.17 245.6 967)"/><ellipse cx="195.6" cy="989.9" rx="39" ry="24" fill="url(#gb)" opacity="0.28" transform="rotate(183.83 195.6 989.9)"/><ellipse cx="157.1" cy="968.5" rx="39" ry="24" fill="url(#gb)" opacity="0.28" transform="rotate(224.93 157.1 968.5)"/><ellipse cx="135.7" cy="922.8" rx="39" ry="24" fill="url(#gb)" opacity="0.28" transform="rotate(-87.5 135.7 922.8)"/><ellipse cx="157.1" cy="878.5" rx="39" ry="24" fill="url(#gb)" opacity="0.28" transform="rotate(-42.26 157.1 878.5)"/></g></g>
<g clip-path="url(#c6)"><g filter="url(#f6)"><rect x="80" y="1053" width="236" height="236" fill="#000"/><ellipse cx="148.5" cy="1132.8" rx="57" ry="39" fill="url(#gb)" opacity="0.6"/><ellipse cx="194.2" cy="1137" rx="57" ry="39" fill="url(#gb)" opacity="0.49"/><ellipse cx="239.9" cy="1134.2" rx="57" ry="39" fill="url(#gb)" opacity="0.58"/><ellipse cx="148.5" cy="1204.2" rx="57" ry="39" fill="url(#gb)" opacity="0.66"/><ellipse cx="197.1" cy="1197" rx="57" ry="39" fill="url(#gb)" opacity="0.58"/><ellipse cx="244.2" cy="1199.9" rx="57" ry="39" fill="url(#gb)" opacity="0.66"/></g></g>
<g clip-path="url(#c7)"><g filter="url(#f7)"><rect x="395" y="806" width="236" height="236" fill="#000"/><circle cx="515.6" cy="927.1" r="128" fill="url(#gr2)" opacity="0.16"/><circle cx="515.6" cy="927.1" r="96" fill="url(#gr3)" opacity="0.26"/><ellipse cx="517" cy="860" rx="42" ry="30" fill="url(#gb)" opacity="0.26" transform="rotate(1.2 517 860)"/><ellipse cx="555.6" cy="878.5" rx="42" ry="30" fill="url(#gb)" opacity="0.26" transform="rotate(39.46 555.6 878.5)"/><ellipse cx="575.6" cy="925.6" rx="42" ry="30" fill="url(#gb)" opacity="0.26" transform="rotate(88.57 575.6 925.6)"/><ellipse cx="562.8" cy="965.6" rx="42" ry="30" fill="url(#gb)" opacity="0.26" transform="rotate(129.2 562.8 965.6)"/><ellipse cx="512.8" cy="987" rx="42" ry="30" fill="url(#gb)" opacity="0.26" transform="rotate(182.68 512.8 987)"/><ellipse cx="468.5" cy="967" rx="42" ry="30" fill="url(#gb)" opacity="0.26" transform="rotate(229.73 468.5 967)"/><ellipse cx="450" cy="921.4" rx="42" ry="30" fill="url(#gb)" opacity="0.26" transform="rotate(-85.03 450 921.4)"/><ellipse cx="471.4" cy="878.5" rx="42" ry="30" fill="url(#gb)" opacity="0.26" transform="rotate(-42.29 471.4 878.5)"/></g></g>
<g clip-path="url(#c8)"><g filter="url(#f8)"><rect x="394" y="1053" width="237" height="237" fill="#000"/><ellipse cx="462" cy="1132.8" rx="78" ry="66" fill="url(#gb)" opacity="0.17"/><ellipse cx="512" cy="1134" rx="78" ry="66" fill="url(#gb)" opacity="0.17"/><ellipse cx="562" cy="1132.8" rx="78" ry="66" fill="url(#gb)" opacity="0.17"/><ellipse cx="462" cy="1201.3" rx="78" ry="66" fill="url(#gb)" opacity="0.17"/><ellipse cx="512" cy="1200" rx="78" ry="66" fill="url(#gb)" opacity="0.17"/><ellipse cx="562" cy="1201.3" rx="78" ry="66" fill="url(#gb)" opacity="0.17"/><ellipse cx="462" cy="1132.8" rx="57" ry="36" fill="url(#gb)" opacity="0.34"/><ellipse cx="512" cy="1134" rx="57" ry="36" fill="url(#gb)" opacity="0.34"/><ellipse cx="562" cy="1132.8" rx="57" ry="36" fill="url(#gb)" opacity="0.34"/><ellipse cx="462" cy="1201.3" rx="57" ry="36" fill="url(#gb)" opacity="0.34"/><ellipse cx="512" cy="1200" rx="57" ry="36" fill="url(#gb)" opacity="0.34"/><ellipse cx="562" cy="1201.3" rx="57" ry="36" fill="url(#gb)" opacity="0.34"/></g></g>
<path d="M92.8 990.7V1029.9H130.5" stroke="#fff" stroke-width="1.8" fill="none"/><path d="M92.8 982.7l-6 13.5h12zM138.5 1029.9l-13.5 -6v12z" fill="#fff"/><text x="87.5" y="967" class="wl" font-style="italic">y</text><text x="143.5" y="1043" class="wl" font-style="italic">x</text>
<rect x="231.3" y="1029.9" width="64.3" height="4.5" fill="#fff"/>
<path d="M93.1 1233.6V1272H132" stroke="#fff" stroke-width="1.8" fill="none"/><path d="M93.1 1225.6l-6 13.5h12zM140 1272l-13.5 -6v12z" fill="#fff"/><text x="84" y="1219.2" class="wl" font-style="italic">z</text><text x="144" y="1284" class="wl" font-style="italic">x</text>
<rect x="231.3" y="1272.3" width="64.3" height="4.4" fill="#fff"/><text x="211.8" y="1265.2" class="sb">50 nm</text>
<rect x="336.1" y="938.6" width="13.2" height="192.7" fill="url(#cb)" stroke="#6b6b6b" stroke-width="0.9"/><text x="323" y="927.7" class="cl">100</text><text x="323" y="1165.7" class="cl">30</text>
<rect x="640.3" y="938.6" width="13.2" height="192.7" fill="url(#cb)" stroke="#6b6b6b" stroke-width="0.9"/><text x="632.5" y="927.7" class="cl">100</text><text x="636.5" y="1165.7" class="cl">0</text>
<g clip-path="url(#c9)"><g filter="url(#f9)"><rect x="77" y="1507" width="234" height="234" fill="#000"/><ellipse cx="195.6" cy="1564.2" rx="40.5" ry="40.5" fill="url(#gb)" opacity="0.44"/><ellipse cx="241.3" cy="1582.8" rx="40.5" ry="40.5" fill="url(#gb)" opacity="0.44"/><ellipse cx="259.9" cy="1625.6" rx="40.5" ry="40.5" fill="url(#gb)" opacity="0.42"/><ellipse cx="238.5" cy="1668.5" rx="40.5" ry="40.5" fill="url(#gb)" opacity="0.45"/><ellipse cx="194.2" cy="1689.9" rx="40.5" ry="40.5" fill="url(#gb)" opacity="0.45"/><ellipse cx="149.9" cy="1669.9" rx="40.5" ry="40.5" fill="url(#gb)" opacity="0.41"/><ellipse cx="131.4" cy="1627.1" rx="40.5" ry="40.5" fill="url(#gb)" opacity="0.44"/><ellipse cx="149.9" cy="1581.4" rx="40.5" ry="40.5" fill="url(#gb)" opacity="0.43"/><ellipse cx="195.6" cy="1564.2" rx="18" ry="18" fill="url(#gb)" opacity="0.4"/><ellipse cx="241.3" cy="1582.8" rx="18" ry="18" fill="url(#gb)" opacity="0.4"/><ellipse cx="259.9" cy="1625.6" rx="18" ry="18" fill="url(#gb)" opacity="0.33"/><ellipse cx="238.5" cy="1668.5" rx="18" ry="18" fill="url(#gb)" opacity="0.44"/><ellipse cx="194.2" cy="1689.9" rx="18" ry="18" fill="url(#gb)" opacity="0.43"/><ellipse cx="149.9" cy="1669.9" rx="18" ry="18" fill="url(#gb)" opacity="0.32"/><ellipse cx="131.4" cy="1627.1" rx="18" ry="18" fill="url(#gb)" opacity="0.39"/><ellipse cx="149.9" cy="1581.4" rx="18" ry="18" fill="url(#gb)" opacity="0.38"/></g></g>
<g clip-path="url(#c10)"><g filter="url(#f10)"><rect x="77" y="1750" width="234" height="233" fill="#000"/><ellipse cx="148.5" cy="1832.1" rx="49.5" ry="45" fill="url(#gb)" opacity="0.44"/><ellipse cx="192.8" cy="1832.1" rx="49.5" ry="45" fill="url(#gb)" opacity="0.44"/><ellipse cx="241.3" cy="1832.1" rx="49.5" ry="45" fill="url(#gb)" opacity="0.43"/><ellipse cx="144.2" cy="1894.9" rx="49.5" ry="45" fill="url(#gb)" opacity="0.46"/><ellipse cx="191.4" cy="1894.9" rx="49.5" ry="45" fill="url(#gb)" opacity="0.44"/><ellipse cx="242.8" cy="1894.9" rx="49.5" ry="45" fill="url(#gb)" opacity="0.46"/><ellipse cx="148.5" cy="1832.1" rx="24" ry="22.5" fill="url(#gb)" opacity="0.38"/><ellipse cx="192.8" cy="1832.1" rx="24" ry="22.5" fill="url(#gb)" opacity="0.39"/><ellipse cx="241.3" cy="1832.1" rx="24" ry="22.5" fill="url(#gb)" opacity="0.36"/><ellipse cx="144.2" cy="1894.9" rx="24" ry="22.5" fill="url(#gb)" opacity="0.43"/><ellipse cx="191.4" cy="1894.9" rx="24" ry="22.5" fill="url(#gb)" opacity="0.37"/><ellipse cx="242.8" cy="1894.9" rx="24" ry="22.5" fill="url(#gb)" opacity="0.43"/></g></g>
<g clip-path="url(#c11)"><g filter="url(#f11)"><rect x="383" y="1504" width="238" height="237" fill="#000"/><ellipse cx="502.8" cy="1561.4" rx="54" ry="54" fill="url(#gb)" opacity="0.19"/><ellipse cx="551.3" cy="1581.4" rx="54" ry="54" fill="url(#gb)" opacity="0.19"/><ellipse cx="569.9" cy="1625.6" rx="54" ry="54" fill="url(#gb)" opacity="0.18"/><ellipse cx="547" cy="1668.5" rx="54" ry="54" fill="url(#gb)" opacity="0.2"/><ellipse cx="502.8" cy="1689.9" rx="54" ry="54" fill="url(#gb)" opacity="0.19"/><ellipse cx="460" cy="1668.5" rx="54" ry="54" fill="url(#gb)" opacity="0.18"/><ellipse cx="440" cy="1625.6" rx="54" ry="54" fill="url(#gb)" opacity="0.19"/><ellipse cx="458.5" cy="1578.5" rx="54" ry="54" fill="url(#gb)" opacity="0.19"/><ellipse cx="502.8" cy="1561.4" rx="20" ry="20" fill="url(#gf)" opacity="0.56"/><ellipse cx="551.3" cy="1581.4" rx="20" ry="20" fill="url(#gf)" opacity="0.56"/><ellipse cx="569.9" cy="1625.6" rx="20" ry="20" fill="url(#gf)" opacity="0.46"/><ellipse cx="547" cy="1668.5" rx="20" ry="20" fill="url(#gf)" opacity="0.62"/><ellipse cx="502.8" cy="1689.9" rx="20" ry="20" fill="url(#gf)" opacity="0.6"/><ellipse cx="460" cy="1668.5" rx="20" ry="20" fill="url(#gf)" opacity="0.45"/><ellipse cx="440" cy="1625.6" rx="20" ry="20" fill="url(#gf)" opacity="0.54"/><ellipse cx="458.5" cy="1578.5" rx="20" ry="20" fill="url(#gf)" opacity="0.53"/></g></g>
<g clip-path="url(#c12)"><g filter="url(#f12)"><rect x="385" y="1750" width="234" height="233" fill="#000"/><ellipse cx="455.7" cy="1830.7" rx="69" ry="63" fill="url(#gb)" opacity="0.21"/><ellipse cx="498.5" cy="1830.7" rx="69" ry="63" fill="url(#gb)" opacity="0.21"/><ellipse cx="548.5" cy="1830.7" rx="69" ry="63" fill="url(#gb)" opacity="0.21"/><ellipse cx="452.8" cy="1894.9" rx="69" ry="63" fill="url(#gb)" opacity="0.22"/><ellipse cx="501.4" cy="1894.9" rx="69" ry="63" fill="url(#gb)" opacity="0.21"/><ellipse cx="549.9" cy="1894.9" rx="69" ry="63" fill="url(#gb)" opacity="0.22"/><ellipse cx="455.7" cy="1830.7" rx="25" ry="23" fill="url(#gf)" opacity="0.58"/><ellipse cx="498.5" cy="1830.7" rx="25" ry="23" fill="url(#gf)" opacity="0.6"/><ellipse cx="548.5" cy="1830.7" rx="25" ry="23" fill="url(#gf)" opacity="0.55"/><ellipse cx="452.8" cy="1894.9" rx="25" ry="23" fill="url(#gf)" opacity="0.63"/><ellipse cx="501.4" cy="1894.9" rx="25" ry="23" fill="url(#gf)" opacity="0.55"/><ellipse cx="549.9" cy="1894.9" rx="25" ry="23" fill="url(#gf)" opacity="0.63"/></g></g>
<path d="M90 1685V1724.2H129.1" stroke="#fff" stroke-width="1.8" fill="none"/><path d="M90 1677l-6 13.5h12zM137.1 1724.2l-13.5 -6v12z" fill="#fff"/><text x="85" y="1663" class="wl" font-style="italic">y</text><text x="141" y="1737" class="wl" font-style="italic">x</text>
<rect x="232.8" y="1727.7" width="64.2" height="4.7" fill="#fff"/>
<path d="M91.4 1928.6V1967.7H129.8" stroke="#fff" stroke-width="1.8" fill="none"/><path d="M91.4 1920.6l-6 13.5h12zM137.8 1967.7l-13.5 -6v12z" fill="#fff"/><text x="82" y="1914.9" class="wl" font-style="italic">z</text><text x="143" y="1979.9" class="wl" font-style="italic">x</text>
<rect x="233" y="1970.6" width="63.7" height="4.5" fill="#fff"/><text x="212.5" y="1961.5" class="sb">50 nm</text>
<rect x="325.1" y="1636.7" width="13.2" height="192.5" fill="url(#cb)" stroke="#6b6b6b" stroke-width="0.9"/><text x="313" y="1625.9" class="cl">100</text><text x="313" y="1863.6" class="cl">30</text>
<rect x="631.8" y="1636.7" width="13.2" height="192.5" fill="url(#cb)" stroke="#6b6b6b" stroke-width="0.9"/><text x="622.5" y="1625.9" class="cl">100</text><text x="626.5" y="1863.6" class="cl">0</text>
<g><path d="M943.33 542H951.17V538.87H943.33ZM951.17 542H959.01V536.52H951.17ZM959.01 542H966.84V530.25H959.01ZM966.84 542H974.68V525.55H966.84ZM974.68 542H982.52V522.42H974.68ZM982.52 542H990.36V502.83H982.52ZM990.36 542H998.2V493.43H990.36ZM998.2 542H1006.04V483.25H998.2ZM1006.04 542H1013.88V458.57H1006.04ZM1013.88 542H1021.71V434.68H1013.88ZM1021.71 542H1029.55V392.38H1021.71ZM1029.55 542H1037.39V339.9H1029.55ZM1037.39 542H1045.23V297.91H1037.39ZM1045.23 542H1053.07V220.05H1045.23ZM1053.07 542H1060.9V173.83H1053.07ZM1060.9 542H1068.74V170.7H1060.9ZM1068.74 542H1076.58V173.83H1068.74ZM1076.58 542H1084.42V170.7H1076.58ZM1084.42 542H1092.26V194.98H1084.42ZM1092.26 542H1100.1V248.25H1092.26ZM1100.1 542H1107.93V293.29H1100.1ZM1107.93 542H1115.77V359.48H1107.93ZM1115.77 542H1123.61V398.18H1115.77ZM1123.61 542H1131.45V420.58H1123.61ZM1131.45 542H1139.29V428.02H1131.45ZM1139.29 542H1147.13V403.35H1139.29ZM1147.13 542H1154.96V373.58H1147.13ZM1154.96 542H1162.8V329.72H1154.96ZM1162.8 542H1170.64V289.38H1162.8ZM1170.64 542H1178.48V234.93H1170.64ZM1178.48 542H1186.32V194.98H1178.48ZM1186.32 542H1194.16V179.71H1186.32ZM1194.16 542H1201.99V189.5H1194.16ZM1201.99 542H1209.83V213H1201.99ZM1209.83 542H1217.67V271.2H1209.83ZM1217.67 542H1225.51V334.18H1217.67ZM1225.51 542H1233.35V396.3H1225.51ZM1233.35 542H1241.19V435.23H1233.35ZM1241.19 542H1249.02V464.76H1241.19ZM1249.02 542H1256.86V481.92H1249.02ZM1256.86 542H1264.7V496.57H1256.86ZM1264.7 542H1272.54V506.28H1264.7ZM1272.54 542H1280.38V513.49H1272.54ZM1280.38 542H1288.22V519.28H1280.38ZM1288.22 542H1296.05V528.68H1288.22ZM1296.05 542H1303.89V533.7H1296.05ZM1303.89 542H1311.73V536.83H1303.89ZM1311.73 542H1319.57V539.65H1311.73Z" fill="#bd9093"/>
<path d="M951.17 542V536.52M959.01 542V530.25M966.84 542V525.55M974.68 542V522.42M982.52 542V502.83M990.36 542V493.43M998.2 542V483.25M1006.04 542V458.57M1013.88 542V434.68M1021.71 542V392.38M1029.55 542V339.9M1037.39 542V297.91M1045.23 542V220.05M1053.07 542V173.83M1060.9 542V170.7M1068.74 542V173.83M1076.58 542V170.7M1084.42 542V194.98M1092.26 542V248.25M1100.1 542V293.29M1107.93 542V359.48M1115.77 542V398.18M1123.61 542V420.58M1131.45 542V428.02M1139.29 542V403.35M1147.13 542V373.58M1154.96 542V329.72M1162.8 542V289.38M1170.64 542V234.93M1178.48 542V194.98M1186.32 542V179.71M1194.16 542V189.5M1201.99 542V213M1209.83 542V271.2M1217.67 542V334.18M1225.51 542V396.3M1233.35 542V435.23M1241.19 542V464.76M1249.02 542V481.92M1256.86 542V496.57M1264.7 542V506.28M1272.54 542V513.49M1280.38 542V519.28M1288.22 542V528.68M1296.05 542V533.7M1303.89 542V536.83" stroke="#fff" stroke-opacity=".13" stroke-width="1" fill="none"/>
<path d="M1071.33 125V541" stroke="#333" stroke-width="1.2" stroke-dasharray="5.5 3" fill="none"/>
<path d="M1191.57 125V541" stroke="#333" stroke-width="1.2" stroke-dasharray="5.5 3" fill="none"/>
<path d="M1082.33 139.8H1180.57" stroke="#111" stroke-width="1.4" stroke-dasharray="6 3.4" fill="none"/>
<path d="M1072.33 139.8l12.5 -7v14zM1190.57 139.8l-12.5 -7v14z" fill="#000"/>
<path d="M896.3 542L898.26 542L900.22 541.99L902.18 541.98L904.14 541.96L906.1 541.94L908.06 541.91L910.02 541.88L911.98 541.84L913.94 541.8L915.9 541.76L917.86 541.72L919.81 541.67L921.77 541.62L923.73 541.57L925.69 541.51L927.65 541.46L929.61 541.4L931.57 541.34L933.53 541.28L935.49 541.22L937.45 541.15L939.41 541.08L941.37 541.01L943.33 540.93L945.29 540.83L947.25 540.73L949.21 540.62L951.17 540.49L953.13 540.35L955.09 540.19L957.05 540.01L959.01 539.82L960.97 539.6L962.93 539.28L964.89 538.81L966.84 538.2L968.8 537.48L970.76 536.63L972.72 535.69L974.68 534.65L976.64 533.52L978.6 532.32L980.56 530.99L982.52 529.3L984.48 527.24L986.44 524.84L988.4 522.13L990.36 519.13L992.32 515.85L994.28 512.3L996.24 507.95L998.2 502.75L1000.16 496.85L1002.12 490.4L1004.08 483.52L1006.04 476.37L1008 468.84L1009.96 460.46L1011.92 451.35L1013.88 441.66L1015.83 431.52L1017.79 421.08L1019.75 409.85L1021.71 397.81L1023.67 385.39L1025.63 372.96L1027.59 360.68L1029.55 348.27L1031.51 335.76L1033.47 323.18L1035.43 310.45L1037.39 297.43L1039.35 284.46L1041.31 271.89L1043.27 259.9L1045.23 248.09L1047.19 236.62L1049.15 225.75L1051.11 215.73L1053.07 206.13L1055.03 196.7L1056.99 188.11L1058.95 181.01L1060.9 175.87L1062.86 171.23L1064.82 166.96L1066.78 163.35L1068.74 160.72L1070.7 159.37L1072.66 159.64L1074.62 161.55L1076.58 164.77L1078.54 168.95L1080.5 173.73L1082.46 178.82L1084.42 185.84L1086.38 194.95L1088.34 205.23L1090.3 215.77L1092.26 226.75L1094.22 238.68L1096.18 251.31L1098.14 264.4L1100.1 278.13L1102.06 292.84L1104.02 307.71L1105.98 321.91L1107.93 335.72L1109.89 349.25L1111.85 362.2L1113.81 374.37L1115.77 386.47L1117.73 396.22L1119.69 402.45L1121.65 407.26L1123.61 411.18L1125.57 414.8L1127.53 417.59L1129.49 418.89L1131.45 419.76L1133.41 420.18L1135.37 419.05L1137.33 415.41L1139.29 410.6L1141.25 402.96L1143.21 394.29L1145.17 384.72L1147.13 374.51L1149.09 364.25L1151.05 353.77L1153.01 343.08L1154.96 332.25L1156.92 321.33L1158.88 310.23L1160.84 298.8L1162.8 287.33L1164.76 276.09L1166.72 265.37L1168.68 254.85L1170.64 244.45L1172.6 234.4L1174.56 224.94L1176.52 216.32L1178.48 208.16L1180.44 200.23L1182.4 193.54L1184.36 189.1L1186.32 185.91L1188.28 183.27L1190.24 181.61L1192.2 181.38L1194.16 182.68L1196.12 185.08L1198.08 188.17L1200.04 192.06L1201.99 198.33L1203.95 206.21L1205.91 214.68L1207.87 223.59L1209.83 233.6L1211.79 244.44L1213.75 255.84L1215.71 267.52L1217.67 279.75L1219.63 292.71L1221.59 306.12L1223.55 319.68L1225.51 333.71L1227.47 348.16L1229.43 362.36L1231.39 375.71L1233.35 388.62L1235.31 401.13L1237.27 413.01L1239.23 424.06L1241.19 434.64L1243.15 444.91L1245.11 454.66L1247.07 463.67L1249.02 471.72L1250.98 478.8L1252.94 485.48L1254.9 491.79L1256.86 497.64L1258.82 502.99L1260.78 507.76L1262.74 511.89L1264.7 515.4L1266.66 518.65L1268.62 521.67L1270.58 524.42L1272.54 526.88L1274.5 529.01L1276.46 530.78L1278.42 532.18L1280.38 533.42L1282.34 534.59L1284.3 535.67L1286.26 536.66L1288.22 537.53L1290.18 538.28L1292.14 538.89L1294.1 539.35L1296.05 539.65L1298.01 539.85L1299.97 540.04L1301.93 540.2L1303.89 540.35L1305.85 540.49L1307.81 540.61L1309.77 540.72L1311.73 540.82L1313.69 540.91L1315.65 540.99L1317.61 541.06L1319.57 541.12L1321.53 541.18L1323.49 541.24L1325.45 541.29L1327.41 541.35L1329.37 541.4L1331.33 541.45L1333.29 541.51L1335.25 541.56L1337.21 541.6L1339.17 541.65L1341.13 541.69L1343.09 541.73L1345.04 541.77L1347 541.81L1348.96 541.84L1350.92 541.87L1352.88 541.9L1354.84 541.93L1356.8 541.95L1358.76 541.97L1360.72 541.98L1362.68 541.99L1364.64 542L1366.6 542" stroke="#000" stroke-width="3.3" fill="none" stroke-linejoin="round"/>
<rect x="896.3" y="72" width="470.3" height="470" fill="none" stroke="#1f1f1f" stroke-width="1.6"/>
<path d="M974.68 542v8.5M1131.45 542v8.5M1288.22 542v8.5M896.3 542v4.5M1053.07 542v4.5M1209.83 542v4.5M1366.6 542v4.5M896.3 542h-8.5M896.3 385.33h-8.5M896.3 228.67h-8.5M896.3 72h-8.5M896.3 463.67h-4.5M896.3 307h-4.5M896.3 150.33h-4.5" stroke="#1f1f1f" stroke-width="1.6" fill="none"/>
<text transform="translate(883.4 553.6) scale(0.93 1)" text-anchor="end" class="tk">0.00</text>
<text transform="translate(883.4 396.93) scale(0.93 1)" text-anchor="end" class="tk">0.02</text>
<text transform="translate(883.4 240.27) scale(0.93 1)" text-anchor="end" class="tk">0.04</text>
<text transform="translate(883.4 83.6) scale(0.93 1)" text-anchor="end" class="tk">0.06</text>
<text transform="translate(966.68 589.1) scale(0.93 1)" text-anchor="middle" class="tk">-100</text>
<text transform="translate(1132.75 589.1) scale(0.93 1)" text-anchor="middle" class="tk">0</text>
<text transform="translate(1289.52 589.1) scale(0.93 1)" text-anchor="middle" class="tk">100</text>
<text transform="translate(1144.2 634) scale(0.98 1)" text-anchor="middle" class="ti"><tspan font-style="italic">z</tspan><tspan dx="8">(nm)</tspan></text>
<text transform="translate(777.5 376.7) rotate(-90) scale(0.94 1)" class="ty">Frequency</text>
<text transform="translate(1360 114.4) scale(0.93 1)" text-anchor="end" class="an">76.8<tspan dx="5.4">±</tspan><tspan dx="6">0.8</tspan><tspan dx="6.5">nm</tspan></text></g>
<g><path d="M1702.18 542H1725.67V529.07H1702.18ZM1725.67 542H1749.16V514.09H1725.67ZM1749.16 542H1772.65V491.46H1749.16ZM1772.65 542H1796.14V447.39H1772.65ZM1796.14 542H1819.63V382.75H1796.14ZM1819.63 542H1843.12V304.89H1819.63ZM1843.12 542H1866.61V190.6H1843.12ZM1866.61 542H1890.1V127.72H1866.61ZM1890.1 542H1913.59V115.09H1890.1ZM1913.59 542H1937.08V158.28H1913.59ZM1937.08 542H1960.57V244.66H1937.08ZM1960.57 542H1984.06V351.61H1960.57ZM1984.06 542H2007.55V431.82H1984.06ZM2007.55 542H2031.04V479.71H2007.55ZM2031.04 542H2054.53V505.27H2031.04ZM2054.53 542H2078.02V519.08H2054.53ZM2078.02 542H2101.51V529.66H2078.02ZM2101.51 542H2125V535.54H2101.51Z" fill="#bd9093"/>
<path d="M1702.18 542V529.07M1725.67 542V514.09M1749.16 542V491.46M1772.65 542V447.39M1796.14 542V382.75M1819.63 542V304.89M1843.12 542V190.6M1866.61 542V127.72M1890.1 542V115.09M1913.59 542V158.28M1937.08 542V244.66M1960.57 542V351.61M1984.06 542V431.82M2007.55 542V479.71M2031.04 542V505.27M2054.53 542V519.08M2078.02 542V529.66M2101.51 542V535.54" stroke="#fff" stroke-opacity=".13" stroke-width="1" fill="none"/>
<path d="M1655.2 539.26L1657.16 539.24L1659.12 539.21L1661.07 539.18L1663.03 539.16L1664.99 539.13L1666.94 539.1L1668.9 539.07L1670.86 539.04L1672.82 539L1674.78 538.97L1676.73 538.93L1678.69 538.89L1680.65 538.85L1682.61 538.81L1684.56 538.76L1686.52 538.71L1688.48 538.65L1690.43 538.59L1692.39 538.52L1694.35 538.44L1696.31 538.36L1698.27 538.27L1700.22 538.17L1702.18 538.05L1704.14 537.93L1706.1 537.79L1708.05 537.63L1710.01 537.45L1711.97 537.26L1713.92 537.04L1715.88 536.8L1717.84 536.52L1719.8 536.22L1721.76 535.89L1723.71 535.51L1725.67 535.1L1727.63 534.64L1729.59 534.13L1731.54 533.56L1733.5 532.94L1735.46 532.25L1737.41 531.49L1739.37 530.65L1741.33 529.73L1743.29 528.73L1745.25 527.63L1747.2 526.42L1749.16 525.11L1751.12 523.68L1753.08 522.12L1755.03 520.44L1756.99 518.61L1758.95 516.63L1760.9 514.5L1762.86 512.2L1764.82 509.72L1766.78 507.07L1768.74 504.22L1770.69 501.18L1772.65 497.93L1774.61 494.47L1776.57 490.79L1778.52 486.88L1780.48 482.74L1782.44 478.36L1784.39 473.74L1786.35 468.87L1788.31 463.75L1790.27 458.38L1792.22 452.75L1794.18 446.87L1796.14 440.74L1798.1 434.35L1800.06 427.72L1802.01 420.84L1803.97 413.72L1805.93 406.37L1807.88 398.79L1809.84 391L1811.8 383.01L1813.76 374.82L1815.71 366.45L1817.67 357.92L1819.63 349.24L1821.59 340.44L1823.55 331.52L1825.5 322.5L1827.46 313.42L1829.42 304.29L1831.38 295.12L1833.33 285.95L1835.29 276.8L1837.25 267.7L1839.2 258.66L1841.16 249.71L1843.12 240.87L1845.08 232.18L1847.04 223.66L1848.99 215.32L1850.95 207.2L1852.91 199.31L1854.87 191.68L1856.82 184.33L1858.78 177.28L1860.74 170.55L1862.69 164.15L1864.65 158.1L1866.61 152.43L1868.57 147.13L1870.53 142.22L1872.48 137.71L1874.44 133.6L1876.4 129.91L1878.36 126.63L1880.31 123.77L1882.27 121.31L1884.23 119.27L1886.18 117.62L1888.14 116.35L1890.1 115.46L1892.06 114.91L1894.02 114.67L1895.97 114.67L1897.93 114.91L1899.89 115.46L1901.85 116.36L1903.8 117.62L1905.76 119.26L1907.72 121.29L1909.67 123.73L1911.63 126.58L1913.59 129.83L1915.55 133.5L1917.51 137.57L1919.46 142.05L1921.42 146.92L1923.38 152.17L1925.34 157.81L1927.29 163.81L1929.25 170.15L1931.21 176.84L1933.16 183.83L1935.12 191.13L1937.08 198.7L1939.04 206.53L1940.99 214.6L1942.95 222.88L1944.91 231.35L1946.87 239.99L1948.83 248.77L1950.78 257.66L1952.74 266.65L1954.7 275.71L1956.65 284.81L1958.61 293.94L1960.57 303.06L1962.53 312.16L1964.49 321.21L1966.44 330.19L1968.4 339.09L1970.36 347.87L1972.32 356.53L1974.27 365.05L1976.23 373.4L1978.19 381.59L1980.14 389.58L1982.1 397.37L1984.06 404.95L1986.02 412.32L1987.97 419.45L1989.93 426.35L1991.89 433L1993.85 439.41L1995.81 445.57L1997.76 451.48L1999.72 457.13L2001.68 462.54L2003.63 467.69L2005.59 472.6L2007.55 477.26L2009.51 481.68L2011.46 485.86L2013.42 489.81L2015.38 493.53L2017.34 497.03L2019.3 500.32L2021.25 503.41L2023.21 506.29L2025.17 508.99L2027.12 511.5L2029.08 513.84L2031.04 516.01L2033 518.03L2034.95 519.89L2036.91 521.61L2038.87 523.2L2040.83 524.67L2042.79 526.01L2044.74 527.24L2046.7 528.37L2048.66 529.41L2050.61 530.35L2052.57 531.21L2054.53 531.99L2056.49 532.7L2058.45 533.35L2060.4 533.93L2062.36 534.46L2064.32 534.94L2066.28 535.37L2068.23 535.75L2070.19 536.1L2072.15 536.42L2074.11 536.7L2076.06 536.95L2078.02 537.18L2079.98 537.38L2081.93 537.57L2083.89 537.73L2085.85 537.88L2087.81 538.01L2089.76 538.13L2091.72 538.23L2093.68 538.33L2095.64 538.42L2097.6 538.5L2099.55 538.57L2101.51 538.63L2103.47 538.69L2105.43 538.75L2107.38 538.8L2109.34 538.84L2111.3 538.89L2113.26 538.93L2115.21 538.96L2117.17 539L2119.13 539.03L2121.09 539.07L2123.04 539.1L2125 539.13" stroke="#000" stroke-width="3.3" fill="none" stroke-linejoin="round"/>
<rect x="1655.2" y="71.9" width="469.8" height="470.1" fill="none" stroke="#1f1f1f" stroke-width="1.6"/>
<path d="M1655.2 542v8.5M1890.1 542v8.5M2125 542v8.5M1772.65 542v4.5M2007.55 542v4.5M1655.2 542h-8.5M1655.2 424.48h-8.5M1655.2 306.95h-8.5M1655.2 189.43h-8.5M1655.2 71.9h-8.5M1655.2 483.24h-4.5M1655.2 365.71h-4.5M1655.2 248.19h-4.5M1655.2 130.66h-4.5" stroke="#1f1f1f" stroke-width="1.6" fill="none"/>
<text transform="translate(1642.3 553.6) scale(0.93 1)" text-anchor="end" class="tk">0.00</text>
<text transform="translate(1642.3 436.08) scale(0.93 1)" text-anchor="end" class="tk">0.04</text>
<text transform="translate(1642.3 318.55) scale(0.93 1)" text-anchor="end" class="tk">0.08</text>
<text transform="translate(1642.3 201.03) scale(0.93 1)" text-anchor="end" class="tk">0.12</text>
<text transform="translate(1642.3 83.5) scale(0.93 1)" text-anchor="end" class="tk">0.16</text>
<text transform="translate(1654.3 589.1) scale(0.93 1)" text-anchor="middle" class="tk">0</text>
<text transform="translate(1889.2 589.1) scale(0.93 1)" text-anchor="middle" class="tk">50</text>
<text transform="translate(2124.1 589.1) scale(0.93 1)" text-anchor="middle" class="tk">100</text>
<text transform="translate(1918.4 635.6) scale(0.98 1)" text-anchor="middle" class="ti">Radius (nm)</text>
<text transform="translate(1527.2 376.7) rotate(-90) scale(0.94 1)" class="ty">Frequency</text>
<text transform="translate(2114.5 114.4) scale(0.91 1)" text-anchor="end" class="an">51.1<tspan dx="5.4">±</tspan><tspan dx="6">1.4</tspan><tspan dx="6.5">nm</tspan></text></g>
<g><path d="M982.52 1292.3H990.36V1290.54H982.52ZM990.36 1292.3H998.2V1289.95H990.36ZM998.2 1292.3H1006.04V1288.78H998.2ZM1006.04 1292.3H1013.88V1287.01H1006.04ZM1013.88 1292.3H1021.71V1281.96H1013.88ZM1021.71 1292.3H1029.55V1280.55H1021.71ZM1029.55 1292.3H1037.39V1261.76H1029.55ZM1037.39 1292.3H1045.23V1245.31H1037.39ZM1045.23 1292.3H1053.07V1210.07H1045.23ZM1053.07 1292.3H1060.9V1154.56H1053.07ZM1060.9 1292.3H1068.74V1059.29H1060.9ZM1068.74 1292.3H1076.58V984.22H1068.74ZM1076.58 1292.3H1084.42V885.25H1076.58ZM1084.42 1292.3H1092.26V856.47H1084.42ZM1092.26 1292.3H1100.1V862.93H1092.26ZM1100.1 1292.3H1107.93V898.76H1100.1ZM1107.93 1292.3H1115.77V1004.49H1107.93ZM1115.77 1292.3H1123.61V1074.38H1115.77ZM1123.61 1292.3H1131.45V1139.58H1123.61ZM1131.45 1292.3H1139.29V1154.03H1131.45ZM1139.29 1292.3H1147.13V1104.34H1139.29ZM1147.13 1292.3H1154.96V1022.11H1147.13ZM1154.96 1292.3H1162.8V985.1H1154.96ZM1162.8 1292.3H1170.64V953.38H1162.8ZM1170.64 1292.3H1178.48V942.22H1170.64ZM1178.48 1292.3H1186.32V975.7H1178.48ZM1186.32 1292.3H1194.16V1047.13H1186.32ZM1194.16 1292.3H1201.99V1117.85H1194.16ZM1201.99 1292.3H1209.83V1183.05H1201.99ZM1209.83 1292.3H1217.67V1225.75H1209.83ZM1217.67 1292.3H1225.51V1250.36H1217.67ZM1225.51 1292.3H1233.35V1271.15H1225.51ZM1233.35 1292.3H1241.19V1281.96H1233.35ZM1241.19 1292.3H1249.02V1286.43H1241.19ZM1249.02 1292.3H1256.86V1289.36H1249.02Z" fill="#93cdc3"/>
<path d="M1006.04 1292.3V1287.01M1013.88 1292.3V1281.96M1021.71 1292.3V1280.55M1029.55 1292.3V1261.76M1037.39 1292.3V1245.31M1045.23 1292.3V1210.07M1053.07 1292.3V1154.56M1060.9 1292.3V1059.29M1068.74 1292.3V984.22M1076.58 1292.3V885.25M1084.42 1292.3V856.47M1092.26 1292.3V862.93M1100.1 1292.3V898.76M1107.93 1292.3V1004.49M1115.77 1292.3V1074.38M1123.61 1292.3V1139.58M1131.45 1292.3V1154.03M1139.29 1292.3V1104.34M1147.13 1292.3V1022.11M1154.96 1292.3V985.1M1162.8 1292.3V953.38M1170.64 1292.3V942.22M1178.48 1292.3V975.7M1186.32 1292.3V1047.13M1194.16 1292.3V1117.85M1201.99 1292.3V1183.05M1209.83 1292.3V1225.75M1217.67 1292.3V1250.36M1225.51 1292.3V1271.15M1233.35 1292.3V1281.96M1241.19 1292.3V1286.43" stroke="#fff" stroke-opacity=".13" stroke-width="1" fill="none"/>
<path d="M1090.69 825.5V1242.5" stroke="#333" stroke-width="1.2" stroke-dasharray="5.5 3" fill="none"/>
<path d="M1172.21 825.5V1242.5" stroke="#333" stroke-width="1.2" stroke-dasharray="5.5 3" fill="none"/>
<path d="M1101.69 839.8H1161.21" stroke="#111" stroke-width="1.4" stroke-dasharray="6 3.4" fill="none"/>
<path d="M1091.69 839.8l12.5 -7v14zM1171.21 839.8l-12.5 -7v14z" fill="#000"/>
<path d="M896.3 1290.54L898.18 1290.54L900.07 1290.54L901.95 1290.54L903.83 1290.54L905.72 1290.53L907.6 1290.53L909.48 1290.53L911.37 1290.53L913.25 1290.53L915.13 1290.52L917.01 1290.52L918.9 1290.52L920.78 1290.51L922.66 1290.51L924.55 1290.5L926.43 1290.5L928.31 1290.49L930.2 1290.49L932.08 1290.48L933.96 1290.48L935.85 1290.47L937.73 1290.46L939.61 1290.45L941.5 1290.44L943.38 1290.44L945.26 1290.43L947.15 1290.42L949.03 1290.41L950.91 1290.4L952.79 1290.39L954.68 1290.37L956.56 1290.36L958.44 1290.35L960.33 1290.34L962.21 1290.32L964.09 1290.31L965.98 1290.29L967.86 1290.28L969.74 1290.26L971.63 1290.25L973.51 1290.23L975.39 1290.21L977.28 1290.19L979.16 1290.17L981.04 1290.16L982.93 1290.14L984.81 1290.11L986.69 1290.09L988.57 1290.07L990.46 1290.05L992.34 1290.03L994.22 1290L996.11 1289.98L997.99 1289.95L999.87 1289.92L1001.76 1289.85L1003.64 1289.76L1005.52 1289.64L1007.41 1289.49L1009.29 1289.32L1011.17 1289.12L1013.06 1288.89L1014.94 1288.63L1016.82 1288.35L1018.71 1288L1020.59 1287.41L1022.47 1286.56L1024.35 1285.47L1026.24 1284.17L1028.12 1282.68L1030 1281L1031.89 1278.67L1033.77 1275.55L1035.65 1271.74L1037.54 1267.35L1039.42 1262.45L1041.3 1256.35L1043.19 1248.78L1045.07 1239.89L1046.95 1229.85L1048.84 1218.44L1050.72 1203.95L1052.6 1187.27L1054.49 1169.67L1056.37 1150.6L1058.25 1129.8L1060.13 1107.27L1062.02 1082.67L1063.9 1059.63L1065.78 1038.26L1067.67 1017.1L1069.55 995.03L1071.43 973.48L1073.32 954.53L1075.2 937.27L1077.08 921.21L1078.97 905.78L1080.85 890.31L1082.73 877.09L1084.62 867.83L1086.5 859.54L1088.38 852.99L1090.27 849.72L1092.15 851.02L1094.03 856.28L1095.91 863.97L1097.8 872.57L1099.68 883.94L1101.56 898.75L1103.45 914.26L1105.33 929.8L1107.21 946.23L1109.1 963.4L1110.98 981.69L1112.86 1000.95L1114.75 1019.58L1116.63 1037.53L1118.51 1054.89L1120.4 1071.01L1122.28 1085.92L1124.16 1099.79L1126.05 1112.82L1127.93 1125.66L1129.81 1132.69L1131.69 1136.43L1133.58 1136L1135.46 1131.14L1137.34 1124.54L1139.23 1114.79L1141.11 1103.05L1142.99 1088.01L1144.88 1072.04L1146.76 1056.99L1148.64 1041.79L1150.53 1027.38L1152.41 1014.74L1154.29 1003.34L1156.18 992.7L1158.06 982.81L1159.94 973.65L1161.83 965.2L1163.71 957.11L1165.59 950.07L1167.47 945.17L1169.36 941.03L1171.24 938.3L1173.12 938.23L1175.01 940.77L1176.89 944.92L1178.77 950.62L1180.66 960.26L1182.54 971.14L1184.42 983.41L1186.31 997.13L1188.19 1012.1L1190.07 1028.62L1191.96 1047.55L1193.84 1067.41L1195.72 1087.87L1197.61 1108.94L1199.49 1129.09L1201.37 1148.86L1203.26 1167.22L1205.14 1183.37L1207.02 1198.53L1208.9 1212.19L1210.79 1223.69L1212.67 1233.41L1214.55 1242.36L1216.44 1250.34L1218.32 1257.15L1220.2 1262.58L1222.09 1266.9L1223.97 1270.8L1225.85 1274.24L1227.74 1277.18L1229.62 1279.56L1231.5 1281.34L1233.39 1282.7L1235.27 1283.94L1237.15 1285.04L1239.04 1285.99L1240.92 1286.81L1242.8 1287.46L1244.68 1287.96L1246.57 1288.3L1248.45 1288.58L1250.33 1288.84L1252.22 1289.08L1254.1 1289.29L1255.98 1289.48L1257.87 1289.63L1259.75 1289.76L1261.63 1289.86L1263.52 1289.93L1265.4 1289.96L1267.28 1289.99L1269.17 1290.02L1271.05 1290.05L1272.93 1290.07L1274.82 1290.1L1276.7 1290.12L1278.58 1290.15L1280.46 1290.17L1282.35 1290.19L1284.23 1290.21L1286.11 1290.24L1288 1290.26L1289.88 1290.27L1291.76 1290.29L1293.65 1290.31L1295.53 1290.33L1297.41 1290.34L1299.3 1290.36L1301.18 1290.37L1303.06 1290.39L1304.95 1290.4L1306.83 1290.41L1308.71 1290.43L1310.6 1290.44L1312.48 1290.45L1314.36 1290.46L1316.24 1290.47L1318.13 1290.47L1320.01 1290.48L1321.89 1290.49L1323.78 1290.5L1325.66 1290.5L1327.54 1290.51L1329.43 1290.51L1331.31 1290.52L1333.19 1290.52L1335.08 1290.53L1336.96 1290.53L1338.84 1290.53L1340.73 1290.53L1342.61 1290.54L1344.49 1290.54L1346.38 1290.54L1348.26 1290.54" stroke="#2f8a46" stroke-width="3.0" fill="none" stroke-linejoin="round"/>
<rect x="896.3" y="822.4" width="470.3" height="469.9" fill="none" stroke="#1f1f1f" stroke-width="1.6"/>
<path d="M974.68 1292.3v8.5M1131.45 1292.3v8.5M1288.22 1292.3v8.5M896.3 1292.3v4.5M1053.07 1292.3v4.5M1209.83 1292.3v4.5M1366.6 1292.3v4.5M896.3 1292.3h-8.5M896.3 1174.83h-8.5M896.3 1057.35h-8.5M896.3 939.88h-8.5M896.3 822.4h-8.5M896.3 1233.56h-4.5M896.3 1116.09h-4.5M896.3 998.61h-4.5M896.3 881.14h-4.5" stroke="#1f1f1f" stroke-width="1.6" fill="none"/>
<text transform="translate(883.4 1303.9) scale(0.93 1)" text-anchor="end" class="tk">0.00</text>
<text transform="translate(883.4 1186.42) scale(0.93 1)" text-anchor="end" class="tk">0.02</text>
<text transform="translate(883.4 1068.95) scale(0.93 1)" text-anchor="end" class="tk">0.04</text>
<text transform="translate(883.4 951.48) scale(0.93 1)" text-anchor="end" class="tk">0.06</text>
<text transform="translate(883.4 834) scale(0.93 1)" text-anchor="end" class="tk">0.08</text>
<text transform="translate(966.68 1342.8) scale(0.93 1)" text-anchor="middle" class="tk">-100</text>
<text transform="translate(1132.75 1342.8) scale(0.93 1)" text-anchor="middle" class="tk">0</text>
<text transform="translate(1289.52 1342.8) scale(0.93 1)" text-anchor="middle" class="tk">100</text>
<text transform="translate(1144.2 1387) scale(0.98 1)" text-anchor="middle" class="ti"><tspan font-style="italic">z</tspan><tspan dx="8">(nm)</tspan></text>
<text transform="translate(777.5 1127) rotate(-90) scale(0.94 1)" class="ty">Frequency</text>
<text transform="translate(1363.5 859.5) scale(0.9 1)" text-anchor="end" class="an">51.5<tspan dx="5.4">±</tspan><tspan dx="6">1.1</tspan><tspan dx="6.5">nm</tspan></text></g>
<g><path d="M1726.43 1292.4H1749.94V1279H1726.43ZM1749.94 1292.4H1773.45V1263.49H1749.94ZM1773.45 1292.4H1796.96V1228.47H1773.45ZM1796.96 1292.4H1820.47V1170.17H1796.96ZM1820.47 1292.4H1843.98V1080.86H1820.47ZM1843.98 1292.4H1867.49V1002.35H1843.98ZM1867.49 1292.4H1891V915.14H1867.49ZM1891 1292.4H1914.51V913.26H1891ZM1914.51 1292.4H1938.02V975.08H1914.51ZM1938.02 1292.4H1961.53V1055.7H1938.02ZM1961.53 1292.4H1985.04V1145.49H1961.53ZM1985.04 1292.4H2008.55V1218.12H1985.04ZM2008.55 1292.4H2032.06V1260.9H2008.55ZM2032.06 1292.4H2055.57V1279.47H2032.06ZM2055.57 1292.4H2079.08V1289.34H2055.57Z" fill="#93cdc3"/>
<path d="M1726.43 1292.4V1279M1749.94 1292.4V1263.49M1773.45 1292.4V1228.47M1796.96 1292.4V1170.17M1820.47 1292.4V1080.86M1843.98 1292.4V1002.35M1867.49 1292.4V915.14M1891 1292.4V913.26M1914.51 1292.4V975.08M1938.02 1292.4V1055.7M1961.53 1292.4V1145.49M1985.04 1292.4V1218.12M2008.55 1292.4V1260.9M2032.06 1292.4V1279.47" stroke="#fff" stroke-opacity=".13" stroke-width="1" fill="none"/>
<path d="M1665.77 1291.77L1667.69 1291.7L1669.61 1291.62L1671.53 1291.55L1673.45 1291.47L1675.36 1291.39L1677.28 1291.31L1679.2 1291.23L1681.12 1291.15L1683.04 1291.06L1684.95 1290.98L1686.87 1290.89L1688.79 1290.8L1690.71 1290.7L1692.63 1290.61L1694.54 1290.51L1696.46 1290.41L1698.38 1290.31L1700.3 1290.21L1702.22 1290.1L1704.13 1289.99L1706.05 1289.87L1707.97 1289.75L1709.89 1289.63L1711.81 1289.49L1713.72 1289.36L1715.64 1289.21L1717.56 1289.06L1719.48 1288.89L1721.4 1288.72L1723.31 1288.53L1725.23 1288.33L1727.15 1288.12L1729.07 1287.88L1730.99 1287.63L1732.91 1287.35L1734.82 1287.05L1736.74 1286.72L1738.66 1286.35L1740.58 1285.95L1742.5 1285.51L1744.41 1285.03L1746.33 1284.49L1748.25 1283.9L1750.17 1283.25L1752.09 1282.53L1754 1281.74L1755.92 1280.87L1757.84 1279.91L1759.76 1278.86L1761.68 1277.7L1763.59 1276.42L1765.51 1275.03L1767.43 1273.5L1769.35 1271.84L1771.27 1270.02L1773.18 1268.04L1775.1 1265.89L1777.02 1263.56L1778.94 1261.04L1780.86 1258.31L1782.77 1255.38L1784.69 1252.22L1786.61 1248.83L1788.53 1245.2L1790.45 1241.33L1792.36 1237.2L1794.28 1232.8L1796.2 1228.14L1798.12 1223.21L1800.04 1218L1801.95 1212.51L1803.87 1206.74L1805.79 1200.69L1807.71 1194.36L1809.63 1187.77L1811.54 1180.9L1813.46 1173.78L1815.38 1166.4L1817.3 1158.78L1819.22 1150.94L1821.13 1142.88L1823.05 1134.63L1824.97 1126.21L1826.89 1117.62L1828.81 1108.9L1830.72 1100.06L1832.64 1091.14L1834.56 1082.16L1836.48 1073.14L1838.4 1064.11L1840.31 1055.11L1842.23 1046.16L1844.15 1037.28L1846.07 1028.53L1847.99 1019.91L1849.9 1011.46L1851.82 1003.21L1853.74 995.2L1855.66 987.44L1857.58 979.96L1859.49 972.79L1861.41 965.95L1863.33 959.47L1865.25 953.36L1867.17 947.63L1869.08 942.32L1871 937.43L1872.92 932.96L1874.84 928.93L1876.76 925.34L1878.67 922.2L1880.59 919.49L1882.51 917.23L1884.43 915.38L1886.35 913.96L1888.27 912.93L1890.18 912.26L1892.1 911.93L1894.02 911.87L1895.94 912.02L1897.86 912.47L1899.77 913.25L1901.69 914.41L1903.61 915.96L1905.53 917.93L1907.45 920.31L1909.36 923.13L1911.28 926.38L1913.2 930.07L1915.12 934.18L1917.04 938.73L1918.95 943.69L1920.87 949.06L1922.79 954.83L1924.71 960.98L1926.63 967.48L1928.54 974.33L1930.46 981.5L1932.38 988.97L1934.3 996.71L1936.22 1004.7L1938.13 1012.91L1940.05 1021.31L1941.97 1029.87L1943.89 1038.57L1945.81 1047.37L1947.72 1056.25L1949.64 1065.18L1951.56 1074.12L1953.48 1083.05L1955.4 1091.95L1957.31 1100.79L1959.23 1109.53L1961.15 1118.17L1963.07 1126.67L1964.99 1135.01L1966.9 1143.18L1968.82 1151.16L1970.74 1158.92L1972.66 1166.47L1974.58 1173.78L1976.49 1180.84L1978.41 1187.65L1980.33 1194.19L1982.25 1200.47L1984.17 1206.48L1986.08 1212.21L1988 1217.67L1989.92 1222.85L1991.84 1227.77L1993.76 1232.41L1995.67 1236.79L1997.59 1240.92L1999.51 1244.79L2001.43 1248.42L2003.35 1251.81L2005.26 1254.97L2007.18 1257.91L2009.1 1260.65L2011.02 1263.18L2012.94 1265.53L2014.85 1267.69L2016.77 1269.69L2018.69 1271.52L2020.61 1273.21L2022.53 1274.75L2024.44 1276.17L2026.36 1277.46L2028.28 1278.64L2030.2 1279.71L2032.12 1280.69L2034.03 1281.58L2035.95 1282.38L2037.87 1283.12L2039.79 1283.78L2041.71 1284.39L2043.62 1284.93L2045.54 1285.43L2047.46 1285.88L2049.38 1286.29L2051.3 1286.67L2053.22 1287.01L2055.13 1287.32L2057.05 1287.61L2058.97 1287.87L2060.89 1288.11L2062.81 1288.33L2064.72 1288.54L2066.64 1288.73L2068.56 1288.9L2070.48 1289.07L2072.4 1289.23L2074.31 1289.38L2076.23 1289.52L2078.15 1289.65L2080.07 1289.78L2081.99 1289.9L2083.9 1290.02L2085.82 1290.13L2087.74 1290.24L2089.66 1290.34L2091.58 1290.44L2093.49 1290.54L2095.41 1290.64L2097.33 1290.74L2099.25 1290.83L2101.17 1290.92L2103.08 1291.01L2105 1291.09L2106.92 1291.18L2108.84 1291.26L2110.76 1291.34L2112.67 1291.42L2114.59 1291.5L2116.51 1291.58L2118.43 1291.65L2120.35 1291.73L2122.26 1291.8L2124.18 1291.87L2126.1 1291.94" stroke="#000" stroke-width="3.3" fill="none" stroke-linejoin="round"/>
<rect x="1655.9" y="822.3" width="470.2" height="470.1" fill="none" stroke="#1f1f1f" stroke-width="1.6"/>
<path d="M1655.9 1292.4v8.5M1891 1292.4v8.5M2126.1 1292.4v8.5M1773.45 1292.4v4.5M2008.55 1292.4v4.5M1655.9 1292.4h-8.5M1655.9 1174.88h-8.5M1655.9 1057.35h-8.5M1655.9 939.83h-8.5M1655.9 822.3h-8.5M1655.9 1233.64h-4.5M1655.9 1116.11h-4.5M1655.9 998.59h-4.5M1655.9 881.06h-4.5" stroke="#1f1f1f" stroke-width="1.6" fill="none"/>
<text transform="translate(1643 1304) scale(0.93 1)" text-anchor="end" class="tk">0.00</text>
<text transform="translate(1643 1186.47) scale(0.93 1)" text-anchor="end" class="tk">0.05</text>
<text transform="translate(1643 1068.95) scale(0.93 1)" text-anchor="end" class="tk">0.10</text>
<text transform="translate(1643 951.43) scale(0.93 1)" text-anchor="end" class="tk">0.15</text>
<text transform="translate(1643 833.9) scale(0.93 1)" text-anchor="end" class="tk">0.20</text>
<text transform="translate(1658 1337.1) scale(0.93 1)" text-anchor="middle" class="tk">0</text>
<text transform="translate(1893.1 1337.1) scale(0.93 1)" text-anchor="middle" class="tk">50</text>
<text transform="translate(2128.2 1337.1) scale(0.93 1)" text-anchor="middle" class="tk">100</text>
<text transform="translate(1919.3 1386) scale(0.98 1)" text-anchor="middle" class="ti">Radius (nm)</text>
<text transform="translate(1527.9 1127.1) rotate(-90) scale(0.94 1)" class="ty">Frequency</text>
<text transform="translate(2120.5 860.3) scale(0.91 1)" text-anchor="end" class="an">50.7<tspan dx="5.4">±</tspan><tspan dx="6">0.6</tspan><tspan dx="6.5">nm</tspan></text></g>
<g><path d="M998.2 1981.9H1006.04V1980.14H998.2ZM1006.04 1981.9H1013.88V1977.79H1006.04ZM1013.88 1981.9H1021.71V1969.57H1013.88ZM1021.71 1981.9H1029.55V1963.12H1021.71ZM1029.55 1981.9H1037.39V1943.16H1029.55ZM1037.39 1981.9H1045.23V1924.37H1037.39ZM1045.23 1981.9H1053.07V1895.02H1045.23ZM1053.07 1981.9H1060.9V1848.65H1053.07ZM1060.9 1981.9H1068.74V1769.41H1060.9ZM1068.74 1981.9H1076.58V1681.36H1068.74ZM1076.58 1981.9H1084.42V1579.22H1076.58ZM1084.42 1981.9H1092.26V1565.13H1084.42ZM1092.26 1981.9H1100.1V1573.35H1092.26ZM1100.1 1981.9H1107.93V1608.57H1100.1ZM1107.93 1981.9H1115.77V1694.27H1107.93ZM1115.77 1981.9H1123.61V1787.6H1115.77ZM1123.61 1981.9H1131.45V1841.61H1123.61ZM1131.45 1981.9H1139.29V1847.18H1131.45ZM1139.29 1981.9H1147.13V1801.87H1139.29ZM1147.13 1981.9H1154.96V1735.36H1147.13ZM1154.96 1981.9H1162.8V1653.18H1154.96ZM1162.8 1981.9H1170.64V1593.31H1162.8ZM1170.64 1981.9H1178.48V1577.46H1170.64ZM1178.48 1981.9H1186.32V1623.24H1178.48ZM1186.32 1981.9H1194.16V1731.84H1186.32ZM1194.16 1981.9H1201.99V1825.17H1194.16ZM1201.99 1981.9H1209.83V1886.04H1201.99ZM1209.83 1981.9H1217.67V1917.33H1209.83ZM1217.67 1981.9H1225.51V1937.88H1217.67ZM1225.51 1981.9H1233.35V1950.79H1225.51ZM1233.35 1981.9H1241.19V1963.7H1233.35ZM1241.19 1981.9H1249.02V1971.92H1241.19ZM1249.02 1981.9H1256.86V1977.2H1249.02ZM1256.86 1981.9H1264.7V1980.14H1256.86Z" fill="#bd9093"/>
<path d="M1006.04 1981.9V1977.79M1013.88 1981.9V1969.57M1021.71 1981.9V1963.12M1029.55 1981.9V1943.16M1037.39 1981.9V1924.37M1045.23 1981.9V1895.02M1053.07 1981.9V1848.65M1060.9 1981.9V1769.41M1068.74 1981.9V1681.36M1076.58 1981.9V1579.22M1084.42 1981.9V1565.13M1092.26 1981.9V1573.35M1100.1 1981.9V1608.57M1107.93 1981.9V1694.27M1115.77 1981.9V1787.6M1123.61 1981.9V1841.61M1131.45 1981.9V1847.18M1139.29 1981.9V1801.87M1147.13 1981.9V1735.36M1154.96 1981.9V1653.18M1162.8 1981.9V1593.31M1170.64 1981.9V1577.46M1178.48 1981.9V1623.24M1186.32 1981.9V1731.84M1194.16 1981.9V1825.17M1201.99 1981.9V1886.04M1209.83 1981.9V1917.33M1217.67 1981.9V1937.88M1225.51 1981.9V1950.79M1233.35 1981.9V1963.7M1241.19 1981.9V1971.92M1249.02 1981.9V1977.2" stroke="#fff" stroke-opacity=".13" stroke-width="1" fill="none"/>
<path d="M1090.69 1522V1938" stroke="#333" stroke-width="1.2" stroke-dasharray="5.5 3" fill="none"/>
<path d="M1172.21 1522V1938" stroke="#333" stroke-width="1.2" stroke-dasharray="5.5 3" fill="none"/>
<path d="M1101.69 1535.5H1161.21" stroke="#111" stroke-width="1.4" stroke-dasharray="6 3.4" fill="none"/>
<path d="M1091.69 1535.5l12.5 -7v14zM1171.21 1535.5l-12.5 -7v14z" fill="#000"/>
<path d="M896.3 1981.9L898.26 1981.9L900.22 1981.9L902.18 1981.9L904.14 1981.9L906.1 1981.9L908.06 1981.9L910.02 1981.89L911.98 1981.89L913.94 1981.89L915.9 1981.89L917.86 1981.88L919.81 1981.88L921.77 1981.88L923.73 1981.87L925.69 1981.87L927.65 1981.86L929.61 1981.86L931.57 1981.85L933.53 1981.85L935.49 1981.84L937.45 1981.84L939.41 1981.83L941.37 1981.82L943.33 1981.81L945.29 1981.81L947.25 1981.8L949.21 1981.79L951.17 1981.78L953.13 1981.77L955.09 1981.76L957.05 1981.75L959.01 1981.73L960.97 1981.72L962.93 1981.71L964.89 1981.69L966.84 1981.68L968.8 1981.67L970.76 1981.65L972.72 1981.64L974.68 1981.62L976.64 1981.6L978.6 1981.58L980.56 1981.57L982.52 1981.55L984.48 1981.53L986.44 1981.51L988.4 1981.49L990.36 1981.47L992.32 1981.44L994.28 1981.42L996.24 1981.4L998.2 1981.37L1000.16 1981.35L1002.12 1981.32L1004.08 1981.29L1006.04 1981.21L1008 1981.08L1009.96 1980.9L1011.92 1980.69L1013.88 1980.43L1015.83 1980.14L1017.79 1979.81L1019.75 1979.45L1021.71 1979.03L1023.67 1978.39L1025.63 1977.53L1027.59 1976.46L1029.55 1975.17L1031.51 1973.66L1033.47 1971.95L1035.43 1969.7L1037.39 1966.24L1039.35 1961.79L1041.31 1956.59L1043.27 1950.72L1045.23 1943.33L1047.19 1934.33L1049.15 1923.88L1051.11 1912.05L1053.07 1896.88L1055.03 1878.81L1056.99 1859.63L1058.95 1838.69L1060.9 1816.34L1062.86 1793.64L1064.82 1770.3L1066.78 1747.11L1068.74 1724L1070.7 1700.78L1072.66 1676.69L1074.62 1654.74L1076.58 1636.23L1078.54 1619.51L1080.5 1603.75L1082.46 1587.33L1084.42 1573.04L1086.38 1564.75L1088.34 1558.39L1090.3 1555.14L1092.26 1556.64L1094.22 1562.03L1096.18 1569.24L1098.14 1580.07L1100.1 1595.04L1102.06 1610.62L1104.02 1627.49L1105.98 1645.69L1107.93 1665.05L1109.89 1686.26L1111.85 1707.36L1113.81 1727.75L1115.77 1747.49L1117.73 1765.36L1119.69 1782.22L1121.65 1797.72L1123.61 1810.97L1125.57 1822.79L1127.53 1832.92L1129.49 1838.92L1131.45 1842.57L1133.41 1844.07L1135.37 1841.92L1137.33 1837.34L1139.29 1830.66L1141.25 1820.21L1143.21 1807.85L1145.17 1792.45L1147.13 1774.39L1149.09 1755.22L1151.05 1733.88L1153.01 1711.65L1154.96 1690.03L1156.92 1668.69L1158.88 1649.74L1160.84 1632.1L1162.8 1616.18L1164.76 1603.31L1166.72 1593.13L1168.68 1586.42L1170.64 1581.9L1172.6 1580.5L1174.56 1583.5L1176.52 1588.56L1178.48 1596.85L1180.44 1608.22L1182.4 1623.86L1184.36 1642.42L1186.32 1661.79L1188.28 1682.86L1190.24 1705.51L1192.2 1730.16L1194.16 1755.37L1196.12 1778.03L1198.08 1799.37L1200.04 1820.03L1201.99 1840.3L1203.95 1859.22L1205.91 1876.55L1207.87 1893.02L1209.83 1907.61L1211.79 1919.56L1213.75 1930.31L1215.71 1939.89L1217.67 1947.94L1219.63 1954.06L1221.59 1959.03L1223.55 1963.39L1225.51 1967.06L1227.47 1969.93L1229.43 1971.92L1231.39 1973.52L1233.35 1974.94L1235.31 1976.18L1237.27 1977.24L1239.23 1978.12L1241.19 1978.81L1243.15 1979.3L1245.11 1979.68L1247.07 1980.03L1249.02 1980.34L1250.98 1980.62L1252.94 1980.86L1254.9 1981.05L1256.86 1981.2L1258.82 1981.29L1260.78 1981.32L1262.74 1981.35L1264.7 1981.37L1266.66 1981.4L1268.62 1981.42L1270.58 1981.45L1272.54 1981.47L1274.5 1981.49L1276.46 1981.51L1278.42 1981.53L1280.38 1981.55L1282.34 1981.57L1284.3 1981.59L1286.26 1981.6L1288.22 1981.62L1290.18 1981.64L1292.14 1981.65L1294.1 1981.67L1296.05 1981.68L1298.01 1981.7L1299.97 1981.71L1301.93 1981.72L1303.89 1981.73L1305.85 1981.75L1307.81 1981.76L1309.77 1981.77L1311.73 1981.78L1313.69 1981.79L1315.65 1981.8L1317.61 1981.81L1319.57 1981.81L1321.53 1981.82L1323.49 1981.83L1325.45 1981.84L1327.41 1981.84L1329.37 1981.85L1331.33 1981.86L1333.29 1981.86L1335.25 1981.87L1337.21 1981.87L1339.17 1981.87L1341.13 1981.88L1343.09 1981.88L1345.04 1981.88L1347 1981.89L1348.96 1981.89L1350.92 1981.89L1352.88 1981.89L1354.84 1981.9L1356.8 1981.9L1358.76 1981.9L1360.72 1981.9L1362.68 1981.9L1364.64 1981.9L1366.6 1981.9" stroke="#000" stroke-width="3.3" fill="none" stroke-linejoin="round"/>
<rect x="896.3" y="1512.3" width="470.3" height="469.6" fill="none" stroke="#1f1f1f" stroke-width="1.6"/>
<path d="M974.68 1981.9v8.5M1131.45 1981.9v8.5M1288.22 1981.9v8.5M896.3 1981.9v4.5M1053.07 1981.9v4.5M1209.83 1981.9v4.5M1366.6 1981.9v4.5M896.3 1981.9h-8.5M896.3 1864.5h-8.5M896.3 1747.1h-8.5M896.3 1629.7h-8.5M896.3 1512.3h-8.5M896.3 1923.2h-4.5M896.3 1805.8h-4.5M896.3 1688.4h-4.5M896.3 1571h-4.5" stroke="#1f1f1f" stroke-width="1.6" fill="none"/>
<text transform="translate(883.4 1993.5) scale(0.93 1)" text-anchor="end" class="tk">0.00</text>
<text transform="translate(883.4 1876.1) scale(0.93 1)" text-anchor="end" class="tk">0.02</text>
<text transform="translate(883.4 1758.7) scale(0.93 1)" text-anchor="end" class="tk">0.04</text>
<text transform="translate(883.4 1641.3) scale(0.93 1)" text-anchor="end" class="tk">0.06</text>
<text transform="translate(883.4 1523.9) scale(0.93 1)" text-anchor="end" class="tk">0.08</text>
<text transform="translate(966.68 2029.8) scale(0.93 1)" text-anchor="middle" class="tk">-100</text>
<text transform="translate(1132.75 2029.8) scale(0.93 1)" text-anchor="middle" class="tk">0</text>
<text transform="translate(1289.52 2029.8) scale(0.93 1)" text-anchor="middle" class="tk">100</text>
<text transform="translate(1144.2 2076.6) scale(0.98 1)" text-anchor="middle" class="ti"><tspan font-style="italic">z</tspan><tspan dx="8">(nm)</tspan></text>
<text transform="translate(777.5 1816.6) rotate(-90) scale(0.94 1)" class="ty">Frequency</text>
<text transform="translate(1363.5 1552) scale(0.9 1)" text-anchor="end" class="an">51.6<tspan dx="5.4">±</tspan><tspan dx="6">0.6</tspan><tspan dx="6.5">nm</tspan></text></g>
<g><path d="M1701.98 1977.1H1725.47V1964.17H1701.98ZM1725.47 1977.1H1748.96V1949.19H1725.47ZM1748.96 1977.1H1772.45V1926.57H1748.96ZM1772.45 1977.1H1795.94V1882.51H1772.45ZM1795.94 1977.1H1819.43V1817.89H1795.94ZM1819.43 1977.1H1842.92V1740.04H1819.43ZM1842.92 1977.1H1866.41V1625.77H1842.92ZM1866.41 1977.1H1889.9V1562.91H1866.41ZM1889.9 1977.1H1913.39V1550.28H1889.9ZM1913.39 1977.1H1936.88V1593.46H1913.39ZM1936.88 1977.1H1960.37V1679.82H1936.88ZM1960.37 1977.1H1983.86V1786.75H1960.37ZM1983.86 1977.1H2007.35V1866.94H1983.86ZM2007.35 1977.1H2030.84V1914.82H2007.35ZM2030.84 1977.1H2054.33V1940.38H2030.84ZM2054.33 1977.1H2077.82V1954.19H2054.33ZM2077.82 1977.1H2101.31V1964.76H2077.82ZM2101.31 1977.1H2124.8V1970.64H2101.31Z" fill="#bd9093"/>
<path d="M1701.98 1977.1V1964.17M1725.47 1977.1V1949.19M1748.96 1977.1V1926.57M1772.45 1977.1V1882.51M1795.94 1977.1V1817.89M1819.43 1977.1V1740.04M1842.92 1977.1V1625.77M1866.41 1977.1V1562.91M1889.9 1977.1V1550.28M1913.39 1977.1V1593.46M1936.88 1977.1V1679.82M1960.37 1977.1V1786.75M1983.86 1977.1V1866.94M2007.35 1977.1V1914.82M2030.84 1977.1V1940.38M2054.33 1977.1V1954.19M2077.82 1977.1V1964.76M2101.31 1977.1V1970.64" stroke="#fff" stroke-opacity=".13" stroke-width="1" fill="none"/>
<path d="M1655 1974.36L1656.96 1974.34L1658.91 1974.31L1660.87 1974.29L1662.83 1974.26L1664.79 1974.23L1666.74 1974.2L1668.7 1974.17L1670.66 1974.14L1672.62 1974.1L1674.58 1974.07L1676.53 1974.03L1678.49 1973.99L1680.45 1973.95L1682.4 1973.91L1684.36 1973.86L1686.32 1973.81L1688.28 1973.75L1690.24 1973.69L1692.19 1973.62L1694.15 1973.54L1696.11 1973.46L1698.07 1973.37L1700.02 1973.27L1701.98 1973.15L1703.94 1973.03L1705.89 1972.89L1707.85 1972.73L1709.81 1972.55L1711.77 1972.36L1713.73 1972.14L1715.68 1971.9L1717.64 1971.63L1719.6 1971.32L1721.56 1970.99L1723.51 1970.61L1725.47 1970.2L1727.43 1969.74L1729.38 1969.23L1731.34 1968.66L1733.3 1968.04L1735.26 1967.35L1737.22 1966.59L1739.17 1965.75L1741.13 1964.84L1743.09 1963.83L1745.05 1962.73L1747 1961.53L1748.96 1960.21L1750.92 1958.78L1752.88 1957.23L1754.83 1955.54L1756.79 1953.71L1758.75 1951.74L1760.71 1949.6L1762.66 1947.3L1764.62 1944.83L1766.58 1942.18L1768.54 1939.33L1770.49 1936.29L1772.45 1933.04L1774.41 1929.58L1776.37 1925.9L1778.32 1921.99L1780.28 1917.85L1782.24 1913.48L1784.2 1908.85L1786.15 1903.99L1788.11 1898.87L1790.07 1893.5L1792.03 1887.87L1793.98 1881.99L1795.94 1875.86L1797.9 1869.48L1799.86 1862.84L1801.81 1855.97L1803.77 1848.85L1805.73 1841.5L1807.68 1833.92L1809.64 1826.13L1811.6 1818.14L1813.56 1809.95L1815.52 1801.59L1817.47 1793.06L1819.43 1784.39L1821.39 1775.58L1823.35 1766.66L1825.3 1757.65L1827.26 1748.57L1829.22 1739.44L1831.18 1730.27L1833.13 1721.11L1835.09 1711.96L1837.05 1702.85L1839.01 1693.82L1840.96 1684.87L1842.92 1676.04L1844.88 1667.35L1846.84 1658.82L1848.79 1650.49L1850.75 1642.37L1852.71 1634.48L1854.67 1626.85L1856.62 1619.5L1858.58 1612.46L1860.54 1605.72L1862.5 1599.33L1864.45 1593.29L1866.41 1587.61L1868.37 1582.31L1870.33 1577.4L1872.28 1572.89L1874.24 1568.79L1876.2 1565.1L1878.16 1561.82L1880.11 1558.96L1882.07 1556.5L1884.03 1554.46L1885.99 1552.81L1887.94 1551.54L1889.9 1550.65L1891.86 1550.1L1893.82 1549.86L1895.77 1549.86L1897.73 1550.1L1899.69 1550.65L1901.65 1551.55L1903.6 1552.81L1905.56 1554.45L1907.52 1556.48L1909.48 1558.92L1911.43 1561.77L1913.39 1565.02L1915.35 1568.69L1917.31 1572.76L1919.26 1577.23L1921.22 1582.1L1923.18 1587.36L1925.14 1592.99L1927.09 1598.99L1929.05 1605.33L1931.01 1612.01L1932.97 1619.01L1934.92 1626.3L1936.88 1633.88L1938.84 1641.71L1940.8 1649.77L1942.75 1658.05L1944.71 1666.52L1946.67 1675.15L1948.62 1683.93L1950.58 1692.82L1952.54 1701.81L1954.5 1710.87L1956.46 1719.97L1958.41 1729.09L1960.37 1738.21L1962.33 1747.31L1964.29 1756.36L1966.24 1765.34L1968.2 1774.23L1970.16 1783.01L1972.12 1791.67L1974.07 1800.19L1976.03 1808.54L1977.99 1816.72L1979.95 1824.71L1981.9 1832.5L1983.86 1840.08L1985.82 1847.44L1987.78 1854.57L1989.73 1861.47L1991.69 1868.12L1993.65 1874.53L1995.61 1880.69L1997.56 1886.6L1999.52 1892.25L2001.48 1897.66L2003.44 1902.81L2005.39 1907.71L2007.35 1912.37L2009.31 1916.79L2011.27 1920.97L2013.22 1924.92L2015.18 1928.64L2017.14 1932.14L2019.1 1935.43L2021.05 1938.51L2023.01 1941.4L2024.97 1944.1L2026.93 1946.61L2028.88 1948.95L2030.84 1951.12L2032.8 1953.13L2034.76 1955L2036.71 1956.72L2038.67 1958.31L2040.63 1959.77L2042.59 1961.11L2044.54 1962.35L2046.5 1963.48L2048.46 1964.51L2050.41 1965.45L2052.37 1966.31L2054.33 1967.09L2056.29 1967.8L2058.25 1968.45L2060.2 1969.03L2062.16 1969.56L2064.12 1970.04L2066.08 1970.47L2068.03 1970.86L2069.99 1971.2L2071.95 1971.52L2073.91 1971.8L2075.86 1972.05L2077.82 1972.28L2079.78 1972.48L2081.74 1972.67L2083.69 1972.83L2085.65 1972.98L2087.61 1973.11L2089.57 1973.23L2091.52 1973.34L2093.48 1973.43L2095.44 1973.52L2097.4 1973.6L2099.35 1973.67L2101.31 1973.73L2103.27 1973.79L2105.23 1973.85L2107.18 1973.9L2109.14 1973.94L2111.1 1973.99L2113.06 1974.03L2115.01 1974.06L2116.97 1974.1L2118.93 1974.13L2120.89 1974.17L2122.84 1974.2L2124.8 1974.23" stroke="#000" stroke-width="3.3" fill="none" stroke-linejoin="round"/>
<rect x="1655" y="1507.1" width="469.8" height="470" fill="none" stroke="#1f1f1f" stroke-width="1.6"/>
<path d="M1655 1977.1v8.5M1889.9 1977.1v8.5M2124.8 1977.1v8.5M1772.45 1977.1v4.5M2007.35 1977.1v4.5M1655 1977.1h-8.5M1655 1859.6h-8.5M1655 1742.1h-8.5M1655 1624.6h-8.5M1655 1507.1h-8.5M1655 1918.35h-4.5M1655 1800.85h-4.5M1655 1683.35h-4.5M1655 1565.85h-4.5" stroke="#1f1f1f" stroke-width="1.6" fill="none"/>
<text transform="translate(1642.1 1988.7) scale(0.93 1)" text-anchor="end" class="tk">0.00</text>
<text transform="translate(1642.1 1871.2) scale(0.93 1)" text-anchor="end" class="tk">0.04</text>
<text transform="translate(1642.1 1753.7) scale(0.93 1)" text-anchor="end" class="tk">0.08</text>
<text transform="translate(1642.1 1636.2) scale(0.93 1)" text-anchor="end" class="tk">0.12</text>
<text transform="translate(1642.1 1518.7) scale(0.93 1)" text-anchor="end" class="tk">0.16</text>
<text transform="translate(1656.8 2021.2) scale(0.93 1)" text-anchor="middle" class="tk">0</text>
<text transform="translate(1891.7 2021.2) scale(0.93 1)" text-anchor="middle" class="tk">50</text>
<text transform="translate(2126.6 2021.2) scale(0.93 1)" text-anchor="middle" class="tk">100</text>
<text transform="translate(1918.2 2070.7) scale(0.98 1)" text-anchor="middle" class="ti">Radius (nm)</text>
<text transform="translate(1527.2 1811.8) rotate(-90) scale(0.94 1)" class="ty">Frequency</text>
<text transform="translate(2116.5 1552) scale(0.91 1)" text-anchor="end" class="an">51.1<tspan dx="5.4">±</tspan><tspan dx="6">1.4</tspan><tspan dx="6.5">nm</tspan></text></g>
<text transform="translate(5 34.7) scale(1.03 1)" class="pl">a</text>
<text transform="translate(735.5 34.7) scale(1.03 1)" class="pl">b</text>
<text transform="translate(1483 34.7) scale(1.03 1)" class="pl">c</text>
<text transform="translate(3.4 774) scale(1.03 1)" class="pl">d</text>
<text transform="translate(735.5 774) scale(1.03 1)" class="pl">e</text>
<text transform="translate(1483 774) scale(1.03 1)" class="pl">f</text>
<text transform="translate(5 1480) scale(1.03 1)" class="pl">g</text>
<text transform="translate(735.5 1480) scale(1.03 1)" class="pl">h</text>
<text transform="translate(1483 1480) scale(1.03 1)" class="pl">i</text>
</svg>
</body></html>
